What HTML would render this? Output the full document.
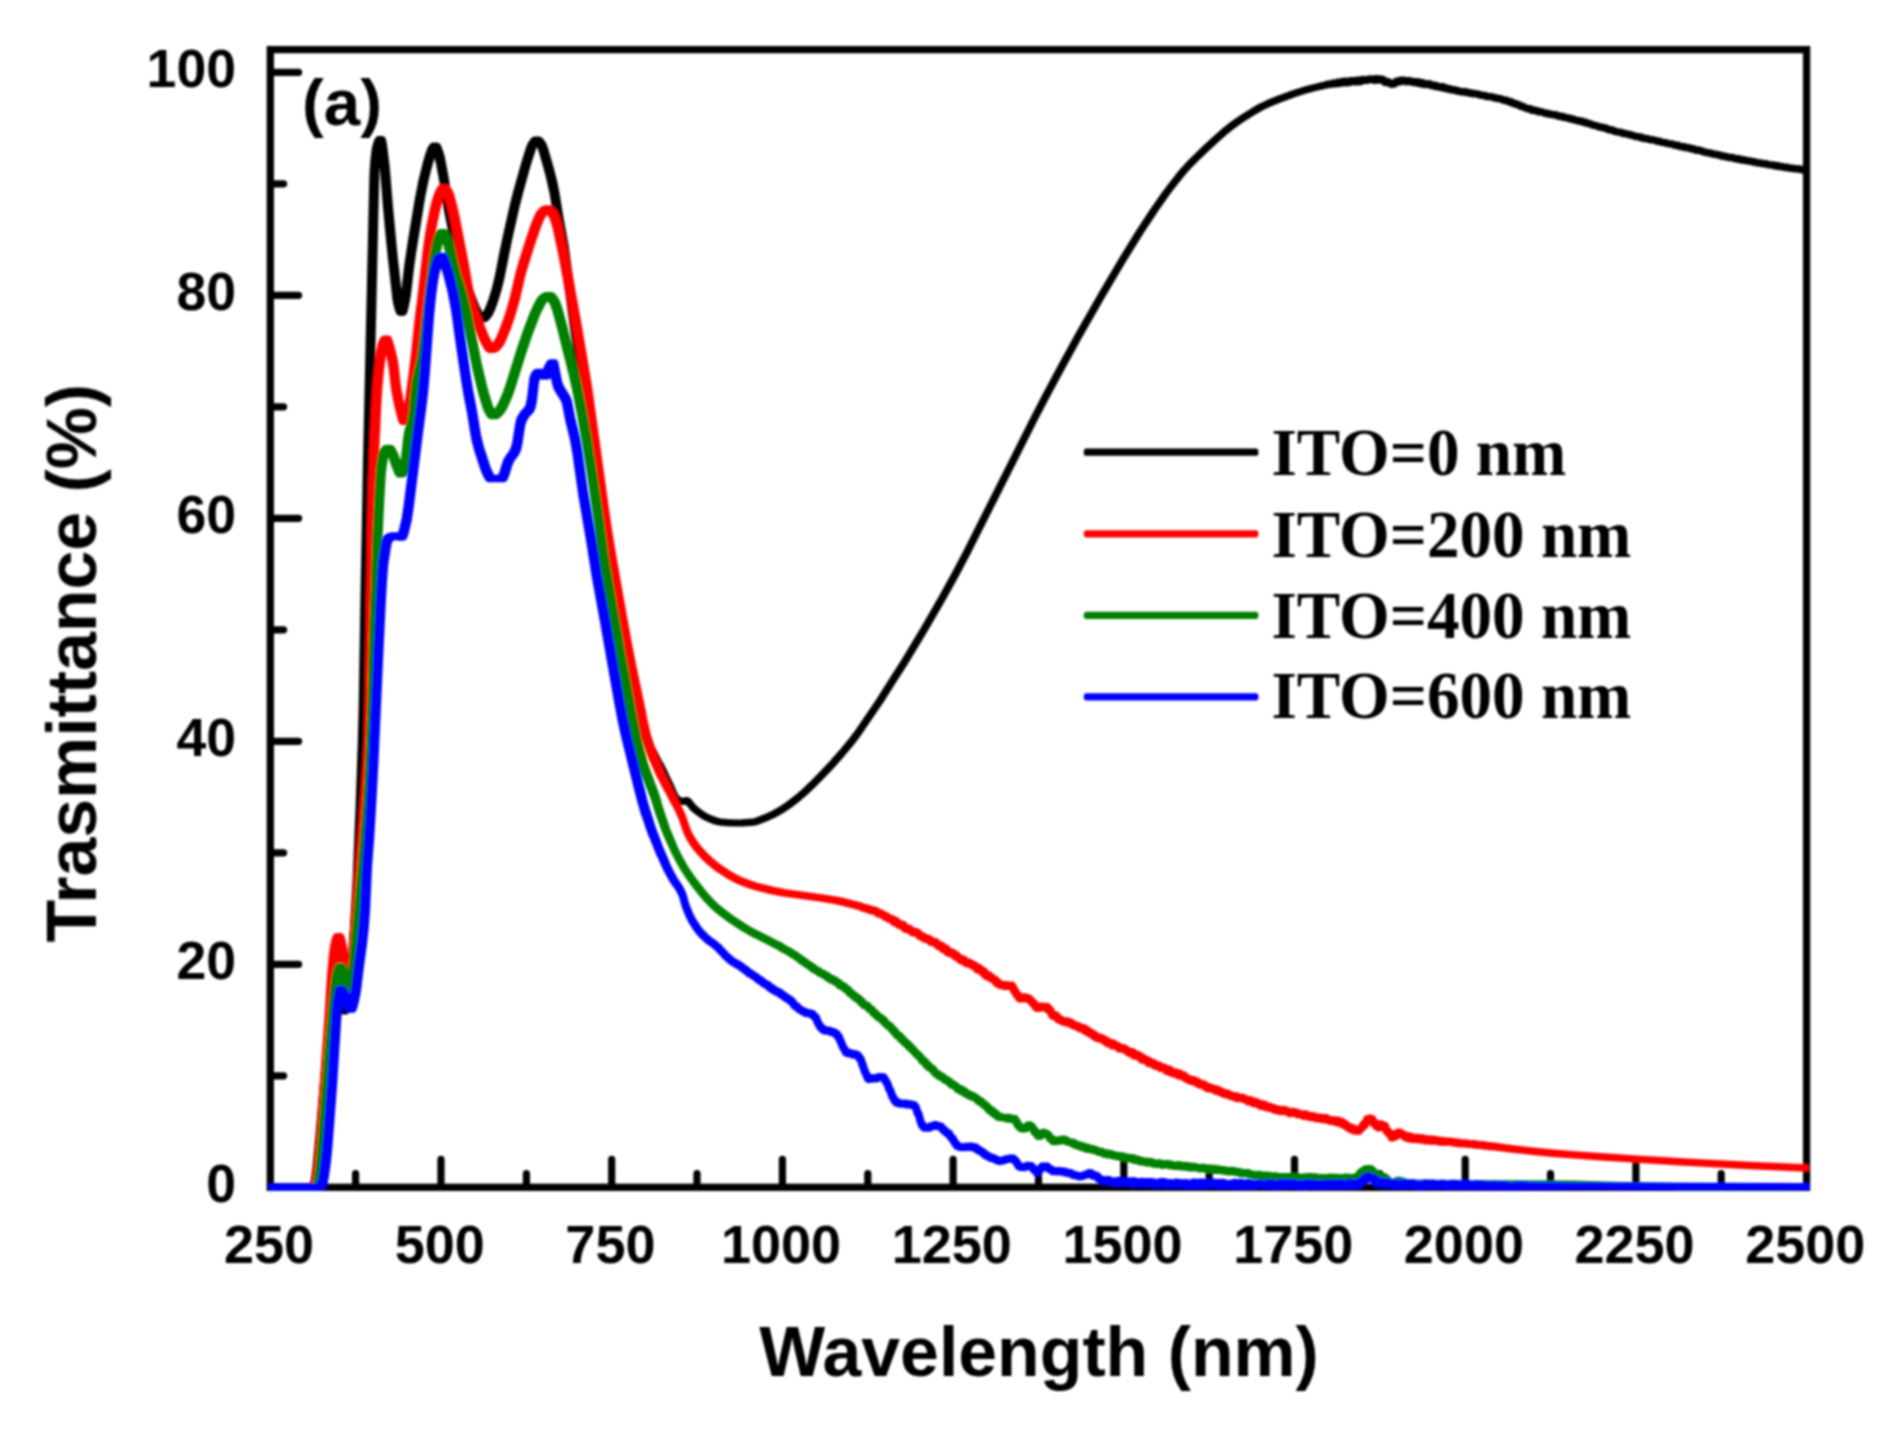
<!DOCTYPE html>
<html lang="en"><head><meta charset="utf-8"><title>Transmittance</title>
<style>html,body{margin:0;padding:0;background:#fff}svg{display:block}</style></head>
<body>
<svg width="1899" height="1432" viewBox="0 0 1899 1432">
<defs><filter id="soft" x="0" y="0" width="1899" height="1432" filterUnits="userSpaceOnUse"><feGaussianBlur stdDeviation="1"/></filter></defs>
<rect width="1899" height="1432" fill="#fff"/>
<g filter="url(#soft)">
<rect x="270.3" y="49.6" width="1536.3" height="1137.7" fill="none" stroke="#000" stroke-width="7.3"/>
<path d="M272.3 1075.8H283.6M272.3 964.3H298.6M272.3 852.8H283.6M272.3 741.3H298.6M272.3 629.8H283.6M272.3 518.3H298.6M272.3 406.8H283.6M272.3 295.3H298.6M272.3 183.8H283.6M272.3 72.3H298.6M355.6 1185.3V1173.6M441.0 1185.3V1159.4M526.4 1185.3V1173.6M611.7 1185.3V1159.4M697.0 1185.3V1173.6M782.4 1185.3V1159.4M867.8 1185.3V1173.6M953.1 1185.3V1159.4M1038.5 1185.3V1173.6M1123.8 1185.3V1159.4M1209.2 1185.3V1173.6M1294.5 1185.3V1159.4M1379.8 1185.3V1173.6M1465.2 1185.3V1159.4M1550.5 1185.3V1173.6M1635.9 1185.3V1159.4M1721.2 1185.3V1173.6" fill="none" stroke="#000" stroke-width="7.2" stroke-linecap="round"/>
<g stroke-width="5.0" stroke-linejoin="round">
<path fill="#000" stroke="#000" stroke-width="6.4" d="M272.2 1186.9L310.2 1186.9 311 1186.7 311.8 1186.1 312.2 1185.6 312.8 1184.5 313.5 1181.5 314.5 1176.1 315.5 1167.9 317.8 1144.2 324.2 1069.6 327.2 1041.8 329.8 1025.6 331 1019.4 332 1015.4 334.2 1008.5 335.5 1006.1 336.2 1005.6 342.8 1005.6 343.2 1006 344.2 1008.1 344.5 1008.3 345.2 1006.8 346 1004.9 346.8 1001.1 349 982.2 350.5 964.6 352.8 932.1 355.8 879.6 358.8 806.5 361 740.4 361.8 710.1 363.5 604.2 366.2 459 372.5 177.6 372.8 171.3 373.5 160.9 374.8 150.1 375.5 146.6 376.8 142.3 377.8 140 378.5 139.2 382.2 139.1 382.5 139.3 383.2 141.6 384.2 147.7 386.5 166.6 389.8 207.2 394.5 256.8 399 297.1 399.8 301.6 401.2 307.8 401.5 307.9 402 305.7 404 295.1 407.5 265 411 241.5 417.8 200.3 421.5 181.3 426 162.9 428.5 154.5 430 150.2 431.5 147.3 432.8 145.8 433.2 145.6 436.8 145.6 437.2 145.8 437.8 146.4 438.8 148.5 440.5 153.3 441.8 158.1 445.2 176.4 449.8 204.6 453.8 225.7 457.5 242.7 465.5 274.3 470.2 290.6 474.5 302.4 476.5 307.1 479.5 313.3 480.8 315.3 482.8 317.4 483.8 316.3 486 313.2 488 309.3 491.8 299.3 494.8 289.4 498 276.3 502.5 253.1 506 236.3 513.5 203 516.5 191.3 524.8 161.9 528.8 149.2 530.2 145.5 532 142.5 533.5 140.4 534.5 139.7 538.5 139.6 539.2 139.8 541 141.3 543.2 144.4 545 149.1 550 166.3 552.5 175.7 554.8 185.3 556.2 192.8 560.2 217.3 565.5 246.2 581.5 362.7 589 425.8 593 455.9 600 503.8 607.5 549.9 615.8 594.8 628 655.9 635.5 690.6 639 705.3 642.2 717.8 642.5 719.6 643 721.4 647 734.6 650 742.9 650.2 744.1 651.2 746.4 654 752.2 657.5 758.9 657.8 759.8 661.2 765.9 664 771.4 665.2 773.9 665.5 775 671.5 787.2 674.2 793.7 675.8 796.5 677.2 798.6 678.8 799.7 682.2 801 683 801 685.5 800.3 687 800.3 688 800.7 689.8 802.4 693.8 807.4 699.5 812.1 705 815.8 711.5 818.8 716.2 820.6 720.5 821.6 727.5 822.2 734.8 822.6 742.2 822.5 751.5 821.8 754.5 821.3 757.8 820.3 768 816.2 773.5 813.6 782 808.7 788.5 804.3 797.8 797.1 805 790.8 812.2 783.9 823.2 772.7 832.2 763.2 841 753.2 850.2 742.1 857.2 733 879.2 700.7 891.5 681.1 903 663.3 924.5 627.6 942.2 596.9 954.5 574.6 967.2 550.4 1034 417.6 1045.5 395.4 1058.8 370.6 1079.2 333.3 1100.5 296 1122 259.6 1139.2 231.7 1153.8 209.6 1164.8 193.9 1171 185.6 1178.2 176.4 1183.2 170.3 1187.8 165.3 1193.5 159.5 1205 148.4 1217 137.3 1223.2 131.8 1230.2 126.2 1237.2 121.1 1244.2 116.4 1253.5 110.6 1260.5 106.6 1267.5 103.3 1279.2 98.5 1294.2 93 1306.8 89.1 1323.8 84.8 1326 84.5 1327.2 83.8 1329.2 83.6 1331.2 83.7 1332.2 82.7 1334.2 82.6 1335.2 83.3 1336.8 82.7 1337.2 81.8 1339 81.8 1339.5 82.5 1339.8 82.1 1340.2 82.1 1340.5 81.5 1341.5 81.5 1341.8 82 1342 81.9 1342.8 81 1343.8 80.8 1344.8 80.8 1345.2 81.8 1345.8 81.8 1346.2 80.9 1348 80.7 1348.2 81.1 1349 81.2 1349.5 81.8 1350 80.6 1350.5 80.5 1350.8 80.1 1351.8 80.1 1352.2 80.5 1352.8 80.3 1354.8 80.4 1355.2 81.1 1355.5 80.9 1355.8 80.1 1356.2 79.8 1357.2 79.8 1357.5 80.2 1357.8 80.3 1358.2 80.8 1358.8 79.8 1360.2 79.9 1360.8 80.6 1361 80.6 1361.5 79.4 1361.8 79.4 1362 79 1362.2 79 1364 79.1 1364.5 79.3 1364.8 79.8 1365.8 79.2 1366.8 79.2 1367.5 79.4 1367.8 78.8 1369.8 78.8 1370.2 78.5 1371.5 78.6 1371.8 78.9 1372 78.9 1372.2 78.6 1374.2 78.5 1374.5 79.2 1374.8 79.2 1375.5 78.2 1376.5 78.2 1376.8 78.8 1377 78.5 1378 78.5 1378.5 79 1378.8 79 1379 78.5 1380 78.5 1380.5 78.9 1380.8 78.6 1381.8 78.6 1382 78.9 1382.8 79 1383 79.2 1383.8 79.2 1385.2 81.7 1385.8 81.9 1386.2 81.1 1387.8 81 1388.5 82.4 1388.8 82.1 1390.8 82.3 1391 82.6 1391.5 82.8 1392 83.7 1392.2 83.1 1392.5 82.9 1394.5 82.9 1394.8 82.4 1395.2 82.2 1395.8 81 1396 81 1396.5 80.6 1398.2 80.5 1398.5 81.2 1399.5 81.2 1400 80.7 1400.5 79.7 1402.2 79.7 1402.5 80.1 1403 80 1403.2 79.6 1404.2 79.6 1405 80.3 1405.2 80.3 1405.5 80.9 1406 81.1 1406.2 81.1 1406.8 80.3 1407.5 80.1 1409.8 80.1 1410.2 80.3 1410.8 81 1412.2 80.9 1413 81.1 1413.5 81.8 1413.8 81.8 1414 81.2 1415 81.2 1415.2 81.9 1415.5 82.1 1415.8 81.7 1416.5 81.6 1416.8 81.2 1417.8 81.2 1418.8 82.1 1419 81.6 1420 81.6 1420.5 82 1420.8 82.9 1421 83 1421.8 82.3 1422.8 82.3 1423 82.6 1423.2 82.6 1424 83.6 1424.5 83.3 1426.5 83.3 1426.8 83.7 1427.5 83.8 1427.8 83.4 1429 83.3 1430 83.5 1431 84.6 1431.2 84.4 1432.2 84.4 1432.5 84.9 1433.5 84.9 1433.8 84.7 1435.2 84.6 1435.8 85.8 1436 85.8 1436.2 85.4 1437.2 85.4 1437.8 86.2 1438 85.9 1439 85.9 1439.2 86.3 1440.5 86.1 1443.2 86.3 1443.5 86.4 1443.8 87.1 1444 87.3 1445.8 87.2 1446.5 87.5 1447.2 88.6 1448.5 88.4 1448.8 88.1 1450 88.2 1450.5 88.9 1451.5 89 1452 89.5 1452.5 89.1 1454 89.1 1454.5 89.5 1455.8 89.5 1456.8 90.3 1458.5 90.1 1459.2 90.7 1460 90.7 1460.8 91.1 1462.2 91.2 1462.5 91.5 1462.8 91.5 1463 91.3 1466 91.3 1466.2 91.6 1467 92 1468.2 91.9 1469 92.1 1469.2 92.5 1470.5 92.4 1471.2 92.9 1471.8 92.6 1472.8 92.6 1473.8 93.2 1476 93.2 1476.8 93.5 1478 93.5 1478.2 93.8 1479.5 93.9 1480 94.4 1480.5 94.5 1485.8 95.1 1486.5 95.8 1487.2 95.8 1488.2 96.3 1490.8 96.1 1491 96.3 1493.5 96.6 1494.2 97.1 1495 97.3 1495.2 97.5 1497.2 97.5 1497.8 97.8 1500.8 98.2 1501.2 98.3 1502 98.9 1502.8 98.9 1503.8 99.8 1506.2 99.6 1506.8 99.8 1507.5 100.6 1508.5 100.6 1509 100.9 1510 101 1511 101.9 1512.5 101.8 1513 102.1 1513.5 102.7 1514.2 102.8 1515 103.3 1516.5 103.3 1517.5 103.7 1517.8 104.1 1518.5 104.4 1519.5 104.5 1520.2 104.8 1521.2 105.9 1523.2 106 1524.2 106.3 1524.5 106.7 1525 106.9 1525.5 107.5 1526 107.5 1526.2 107.8 1527.5 107.8 1528.2 108 1528.5 108.2 1530 108.2 1530.8 108.5 1532 109.7 1532.5 109.7 1532.8 109.4 1533.8 109.4 1535.2 109.8 1536 110.2 1537.2 110.2 1538.8 111.2 1540.5 111 1541.8 111.3 1542.5 111.7 1543.5 111.9 1544 112.4 1545.2 112.4 1545.8 112.9 1547 112.8 1547.2 113.1 1547.8 113.2 1549.2 113.1 1549.5 113.4 1550.2 113.7 1551.5 113.7 1552.5 114.2 1553.2 114.4 1554.5 114.3 1556.5 114.5 1557.2 115.1 1558.8 115.1 1559.5 115.7 1560.8 115.7 1561.2 116.1 1563.2 116 1564.2 116.7 1565.8 116.8 1566.5 117.2 1568.5 117.7 1569.8 117.6 1571.8 118.5 1573.2 118.4 1574 119 1574.2 119 1574.5 119.4 1576.2 119.6 1576.8 119.9 1577.5 119.9 1578.2 120.3 1580 120.2 1580.5 120.7 1581.8 120.6 1582.2 120.7 1583.2 121.4 1584 121.6 1584.2 122 1585.8 121.8 1586 122.1 1586.8 122.2 1587.5 122.8 1589 122.9 1589.5 123.3 1591 123.5 1592.2 124.3 1594 124.6 1594.5 125 1595.8 125 1596.8 125.5 1598.2 125.7 1599 126.2 1600.8 126.7 1602.8 126.8 1603.8 127.3 1604.8 127.3 1605.5 127.7 1606.8 127.8 1607.2 128.1 1607.8 128.7 1608.5 129 1609.5 129.1 1610.2 129.3 1610.5 129.1 1611.5 129.1 1612.2 129.4 1613 130 1614.5 130.1 1615.2 130.9 1616.5 131.1 1617 131.4 1621 131.7 1621.2 132 1621.8 132.2 1622.5 132.2 1623.2 133 1625 132.9 1625.2 133.2 1626.5 133.3 1627.8 133.6 1628.5 134.1 1630.2 134 1631.2 134.7 1632.5 134.8 1633.2 135.2 1634.8 135.4 1636.8 136.1 1639 136.1 1640.2 137 1641 136.8 1642.5 136.9 1643.2 137.8 1644.8 138.1 1647 138 1647.8 138.5 1648.5 138.5 1648.8 138.7 1650.2 138.9 1651.2 139.2 1652.8 139.2 1653.5 139.5 1655.2 139.8 1656 140.2 1657 140.2 1657.8 140.7 1659.8 140.8 1660 141.1 1660.5 141.2 1661 141.5 1662.5 141.6 1663.5 142 1666.2 142.1 1667.2 142.8 1668.8 143.2 1672.2 143.5 1672.8 143.9 1674 144.1 1675.2 144.7 1677.5 144.6 1678.5 144.8 1679.8 145.9 1681 145.9 1681.8 146.2 1683.2 146.1 1683.8 146.4 1685 146.3 1686.2 147.1 1689.5 147.3 1690 147.7 1691.5 148.2 1691.8 148.4 1692.2 148.2 1693.8 148.3 1694.5 149 1695 149.2 1695.5 149.2 1696 149.6 1696.8 149.6 1697 149.4 1699 149.6 1699.2 149.8 1700 149.9 1700.2 150.2 1701.5 150.3 1702 150.6 1703.2 150.9 1704 151.4 1705.2 151.4 1706.5 152.1 1708 152.1 1708.5 152.4 1710.5 152.4 1711 152.9 1712.2 152.9 1713 153.5 1714.2 153.5 1715 153.9 1716.2 153.7 1717 154.2 1718.2 154.2 1718.5 154.4 1720 154.5 1720.8 155.1 1721.5 155.2 1722 155.6 1724.2 155.5 1724.8 155.9 1726 156 1727 156.4 1727.8 156.4 1728.2 156.7 1729.2 156.8 1730.2 157.1 1732.2 157 1733.2 157.2 1735 158 1736.2 158 1737 158.4 1738.8 158.3 1739.5 158.7 1740.2 158.7 1741 159.1 1742.2 159 1743.2 159.5 1744.8 159.5 1745 159.8 1745.8 160 1748.5 160.2 1749.5 160.6 1751.5 160.8 1752.5 161.2 1753.2 161.2 1753.8 161.5 1755.8 161.5 1757 162.3 1760.5 162.5 1761.5 162.7 1761.8 163 1763 163 1764.8 163.4 1765 163.2 1766 163.2 1767 163.4 1767.8 164 1769.2 164.2 1772.8 164.4 1773.2 164.8 1774.8 165 1775 165.3 1775.5 165 1776.5 165 1777.5 165.6 1779 165.4 1779.5 165.8 1780.5 166.1 1782.2 166 1782.8 166.4 1784.8 166.7 1785 166.9 1787.5 166.8 1787.8 167.1 1789 167.2 1789.8 167.7 1792.8 167.7 1793.5 168 1794.8 168 1796.5 168.5 1797.5 168.3 1799.5 168.4 1800.8 169.1 1803 169 1803.2 169.4 1804 169.4 1804.2 169.7 1805.5 169.8 1805.5 170.6 1804.2 170.7 1803.2 170.5 1802.5 170.3 1802 170 1800 170 1798.8 169.3 1795.8 169.4 1795 169.3 1794.2 169 1793 169 1792 168.6 1791.8 168.8 1789.2 168.6 1788.2 168.2 1787 168.3 1786.5 167.7 1786 168 1785 168 1784.8 167.8 1781.8 167.3 1781.2 166.9 1781 167.1 1780 167.1 1778.2 166.5 1778 166.7 1776.8 166.7 1776 166.2 1774.2 166.3 1773.8 165.8 1772.5 165.8 1771.8 165.2 1768.5 165.2 1768 165 1766.8 164.9 1766 164.2 1763.2 164.3 1762.8 164 1760.8 163.8 1759 163.3 1757 163.4 1756 163.1 1755 162.5 1753.5 162.5 1751.8 162.2 1751 161.8 1748.5 161.5 1748 161.3 1745 161.1 1743.8 160.4 1743.5 160.6 1742.5 160.6 1741.8 160.1 1741.5 160.3 1740.5 160.3 1739.8 159.8 1738.8 159.7 1738.2 159.3 1737.8 159.5 1736.5 159.5 1735.8 159.1 1734.5 159.1 1733.5 158.8 1732.2 158 1731.5 157.9 1729.5 158 1726 157.3 1725.5 156.9 1724 157 1723.5 156.5 1723.2 156.7 1722 156.6 1720 156.1 1719 155.3 1716.5 155.2 1715.5 154.7 1712.2 154.5 1711.2 153.7 1710 153.7 1709.5 153.4 1708.2 153.5 1707.8 153.2 1705 152.8 1704.2 152.3 1703 152.2 1702.2 151.7 1701.5 151.7 1700.8 151.2 1699.2 151.1 1698.8 150.6 1697.2 150.4 1697 150.7 1696 150.7 1694.2 150.2 1693 149.3 1691 149.4 1690.5 149 1689.8 148.9 1688.5 148.2 1686.2 148.2 1685.2 148.1 1684.2 147.3 1683 147.5 1682.5 147.1 1681.2 147.2 1680.2 147 1680 146.8 1678.8 146.7 1677.5 145.6 1674.5 145.7 1673.8 145.5 1673.2 145 1672.2 144.9 1671.2 144.3 1669 144.3 1668.5 144 1667.2 144 1667 143.7 1666.2 143.6 1665.8 143.4 1665.5 143.1 1664 143.1 1663.8 143 1662.5 142.9 1662 142.6 1660.8 142.6 1658.8 141.8 1657.2 141.9 1657 141.6 1655.5 141.2 1653.8 140.4 1652.2 140.2 1650.5 140.3 1650 139.8 1648.8 139.9 1648.2 139.5 1647 139.4 1646.5 139 1642.8 138.8 1642.2 138.6 1641.5 137.7 1641.2 138 1639.8 138 1638.2 137 1635.8 137.1 1635 136.7 1634.2 136.6 1634 136.3 1633.2 136.3 1631.5 135.6 1630.2 135.6 1629.2 135 1629 135.1 1628 135.1 1626.8 134.4 1626 134.3 1625.8 134.1 1622.8 134 1622.2 133.8 1621.8 133.3 1620.5 132.8 1616.2 132.3 1615.5 131.9 1614.5 131.8 1613.8 131.1 1612.2 131 1611.2 130.2 1610.8 130.4 1609.8 130.4 1609 130.1 1608.2 130.1 1606.8 129.5 1606.2 128.9 1605.8 128.7 1604.5 128.6 1603.8 128.3 1603 128.3 1602.2 127.8 1601 127.9 1600.8 127.7 1599.8 127.6 1599 127.2 1598 127 1597.2 126.5 1596.2 126.5 1595 125.9 1593.8 125.9 1592.8 125.4 1591.8 125.3 1590 124.4 1589.5 124.4 1588 123.8 1586.8 123.7 1585.8 123.1 1583.2 122.8 1583 122.4 1582.2 122.2 1581.5 121.6 1579.8 121.7 1579.2 121.3 1577.8 121.4 1577.5 121.1 1577 120.9 1575.8 120.8 1575.5 120.5 1574 120.4 1572.5 119.4 1572 119.7 1571 119.7 1570.5 119.2 1569.2 118.7 1567.8 118.8 1567 118.3 1565.5 118.1 1565.2 117.8 1563.5 117.8 1562.5 117.1 1562 117.3 1561 117.3 1560.8 117 1560 116.8 1559 116.8 1558 116.3 1557 116.3 1555.8 115.5 1554.5 115.3 1553 115.4 1551.5 115 1550.8 114.6 1549.5 114.7 1548.8 114.2 1547 114.3 1546.5 113.9 1545.2 113.9 1544.2 113.4 1543 113.2 1542.5 112.7 1540 112 1539.2 112.3 1538 112.3 1537.2 111.6 1537 111.6 1536.8 111.3 1535 111.2 1534.8 110.9 1533.8 110.5 1531.8 110.7 1530.8 110.3 1529.8 109.3 1527.8 109.4 1527.2 108.8 1525.5 108.6 1525 108.3 1524.5 108.3 1524 107.7 1523.5 107.5 1523.2 107.1 1520.8 107 1520.2 106.7 1519.5 105.7 1518.8 105.4 1517.8 105.4 1516 104.3 1515.5 104.5 1514.5 104.5 1513.8 103.8 1512.8 103.8 1512 102.9 1510.8 103 1510 102.8 1509.5 102.1 1509 101.8 1506.5 101.5 1505.8 100.7 1504 100.8 1502.8 100.6 1501.8 99.7 1501 99.7 1500.2 99.1 1499 99.1 1498.8 98.9 1498.5 99.1 1497.5 99.1 1496.5 98.4 1495.2 98.5 1495 98.3 1493.8 98.3 1492.5 97.4 1490.8 97.4 1490 97.1 1487.2 97.1 1486.8 96.8 1485.5 96.7 1484.8 96.1 1483 95.7 1481.2 95.8 1480.8 95.5 1479.8 95.5 1479 95.2 1478.8 94.9 1478 94.9 1477 94.5 1475.8 94.4 1475.5 94.2 1473.8 94.3 1472 93.8 1471.8 94 1470.8 94 1470 93.5 1468.5 93.4 1468 93 1467.8 93.2 1466.8 93.2 1465 92.3 1464 92.2 1463.5 92.6 1461.8 92.5 1461.2 92.1 1458.8 91.9 1458 91.3 1457.5 91.4 1456.2 91.4 1454.8 90.5 1453.5 90.6 1453.2 90.3 1452.8 90.5 1451.2 90.4 1450.8 90 1449.5 89.9 1449 89.3 1448.2 89.5 1446.2 89.4 1445.5 88.3 1445.2 88.2 1445 88.1 1444.5 88.6 1443 88.5 1442.5 87.2 1442 87.1 1440.8 87.2 1440.2 87.7 1439.2 87.7 1438.5 87.3 1437.5 87.3 1437 87 1435 87.1 1434.2 85.7 1434 86.1 1432.5 86.1 1432.2 85.7 1431.8 86.1 1430.8 86.1 1429.5 84.7 1428.8 84.3 1428.5 84.6 1428 84.6 1427.8 85 1426.8 85 1426.2 84.7 1425.2 84.7 1425 84.5 1424.5 85 1423.5 85 1423 84.7 1422.8 84.1 1422.2 83.7 1421.2 84.2 1420.2 84.2 1419.8 83.7 1419.5 83 1419.2 83 1419 83.7 1418 83.7 1417.8 83.6 1417.5 82.8 1417.2 82.7 1416.2 83.2 1414.5 83.1 1414.2 82.9 1412.8 82.9 1412.2 82.3 1411.8 82.5 1410 82.4 1409.5 81.4 1407.5 81.4 1407.2 82 1407 82.1 1405.5 82.2 1405.2 81.9 1404.5 81.7 1404.2 81.1 1403.8 80.9 1403 80.9 1402.8 81.2 1401.8 81.2 1401.5 81 1401.2 81.1 1400.5 82.3 1400.2 82.3 1397.8 82.4 1397.2 81.6 1397 82.2 1396.5 82.5 1396 83.3 1395.8 83.3 1395.2 84.2 1393.5 84.1 1393.2 84 1393 84.6 1392.5 84.6 1392.2 84.8 1391 84.8 1390.8 84.2 1390.2 83.9 1390 83.4 1388 83.4 1387.5 83.2 1387.2 82.6 1387 82.5 1386.5 83.1 1385.5 83.1 1384.2 82.5 1382.8 80.2 1381.5 80.1 1381.2 80.3 1380.2 80.3 1379.8 79.9 1379 80.6 1378 80.6 1377.8 80 1376.2 79.8 1376 79.6 1375.5 80.8 1374.2 80.8 1374 80.2 1373.8 80.5 1372.8 80.5 1372.5 79.8 1371 79.8 1370.8 80 1368.8 80 1368.2 80.3 1368 80.7 1366.8 80.7 1366.2 80.4 1365.2 80.9 1364.2 80.9 1363.8 80.6 1363.5 80.1 1363 80 1362.2 80.5 1362 81.4 1361.5 81.5 1361.2 82 1360 82 1359.5 81.1 1358.5 82.2 1357.5 82.2 1357.2 82.1 1356.8 81.1 1356 82.4 1354.5 82.4 1354 81.7 1353.5 81.6 1353.2 81.3 1353 81.5 1351.5 81.6 1351 81.8 1350.5 82.8 1349.8 83 1348.8 83 1348 82 1347.2 81.9 1347 82 1346.8 82.8 1346.2 82.8 1346 83.2 1344.8 83.3 1343.8 81.8 1342.8 83.3 1341.5 83.4 1340.8 82.9 1340.2 83.9 1339.2 83.9 1338.5 83.4 1338.2 83 1337.5 83.6 1337.2 84.1 1336.5 84.1 1336.2 84.3 1334.5 84.3 1334 83.9 1333.2 83.5 1332.2 84.5 1331 84.7 1330 84.7 1329.8 84.6 1329.5 84.7 1328 84.8 1327 85.3 1324.8 85.6 1324 85.9 1314 88.2 1303.8 91 1295.2 93.8 1280.2 99.3 1268.5 104.1 1261.5 107.4 1254.5 111.4 1245.2 117.2 1238.2 121.9 1231.2 127 1224.2 132.6 1218 138.1 1206 149.2 1194.5 160.3 1188.8 166.1 1184.2 171.1 1179.2 177.2 1172 186.4 1165.8 194.7 1154.8 210.4 1140.2 232.5 1123 260.4 1101.5 296.8 1080.2 334.1 1059.8 371.4 1046.5 396.2 1035 418.4 968.2 551.2 955.5 575.4 943.2 597.7 925.5 628.4 904 664.1 892.5 681.9 880.2 701.5 858.2 733.8 851 743.2 841.8 754.3 832.8 764.5 823.5 774.3 812.5 785.5 805.2 792.3 798.5 798.1 788.8 805.6 782.8 809.7 774 814.6 768.5 817.2 758.2 821.3 754.5 822.3 750.8 822.7 742 823.3 734 823.4 726.8 823.1 719.5 822.4 715.2 821.4 710.5 819.6 704 816.6 698.5 812.9 692.8 808.2 688.8 803.2 687 801.5 686.2 801.2 683.8 801.9 681.2 801.8 677.8 800.5 676.2 799.4 674.8 797.3 673.2 794.5 673 794.5 669 785.9 665.5 778.9 665.2 778.9 659.8 767.7 657.8 764 657.5 764 655.2 760.2 650.2 750.4 650 750.4 647.8 745.5 645.8 740.4 642.5 730.7 642.2 730.7 640.2 724 637 712 633.5 697.8 625.8 662.7 612.8 598.2 608.2 574.5 604.2 552.1 596.8 506.2 589.5 456.7 585.5 426.6 577.8 361.6 561.8 245.4 556.8 218.1 552.8 193.6 551.2 186.1 549 176.5 546.5 167.1 541.5 149.9 539.8 145.2 537 141.6 536.8 141.5 536 142.5 534 145.8 532.8 148.7 528.2 162.7 520 192.1 516.5 205.9 509.2 238.2 501.2 278.2 498.2 290.2 495.2 300.1 492.8 307 491 311.3 489.8 313.6 487.8 316.5 486.5 318 485.2 318.9 484.5 319.1 481 319.1 480.2 318.9 479.2 318.2 476.8 315.4 475.2 312.7 472.2 306.2 469.8 300 467.2 292.9 462.2 276 454.8 246.5 451.8 233.6 446.5 206.8 442 178.6 439 162.5 437.2 154.9 435.2 149.3 435 148.7 434.8 148.6 433.8 150.4 432.8 153 429 165.5 425.2 181 422 196.9 412.8 253.5 410.8 267.8 407.8 294.1 407 299.1 405.5 306.5 404.5 310.5 404 311.9 403.5 312.6 399.8 312.7 399 312 397.8 308.6 396.2 302.4 395.5 297.9 394.8 291.7 391 257.6 388.5 232.6 386 205.1 382.8 164.8 381 150.4 380 143.9 378.2 150.9 377.2 158.9 376.2 172.1 375.8 186.8 370 447.6 367 605 365.2 710.9 364 756.9 361.2 833.3 359 885.4 356 936.7 354 965.4 352.5 983 350.2 1001.9 349.5 1005.7 348.8 1007.6 347.5 1010 346.2 1011.3 342.2 1011.4 341.5 1010.6 339.8 1006.8 339.5 1006.5 339 1006.9 337.8 1009.3 335.5 1016.2 334.5 1020.2 333.2 1026.4 330.8 1042.6 327.8 1070.4 321.2 1145 318.8 1171 317.8 1178.4 316.8 1183.5 316 1186 314.8 1187.3 313.8 1187.7 272.2 1187.7Z"/>
<path fill="#f00" stroke="#f00" d="M271.5 1186.1L310.5 1186.1 311.2 1185.9 312 1185.3 312.5 1184.8 313 1183.7 314.2 1178.2 315.2 1171.7 318 1143 327 1015.8 329.5 975 331 958.4 332.5 946.3 334.2 939.1 335 937 335.8 935.7 336 935.6 341.2 935.6 342 936.7 343.2 940.9 344.8 948.3 345.5 955.3 347.2 976.9 348.2 985.5 350.2 965.1 353.8 910.4 361 820.6 364.8 765.4 365.8 747.8 366.5 728.8 367 705.5 369.8 513 370.5 482.2 371.8 446.7 373.8 403.2 375 383.8 377 363.3 378.2 354 379.5 347.2 380.5 343.2 381.8 340.2 382.8 338.5 383.5 338 388.8 338 389.5 339 390.5 341.7 393 350.2 395 358.8 396 364.6 398.2 384.1 399.2 390.6 401.2 401 404.5 414.4 406.5 405.8 407.5 400.3 411.2 372.9 413.5 353.9 416.8 321.9 420.2 294.3 425.2 250.5 427.5 234.3 429.5 222.9 431.5 213 433.2 205.5 435.2 198.2 436.5 194.3 437.8 191.2 440 187.7 440.8 187 441.5 186.8 446.5 186.8 447.5 187.3 448.5 188.5 450 190.9 451 192.8 451.8 194.9 455.2 208.2 457.5 218.6 466 262.3 471 291 472.8 299 474.5 305.1 476.5 311.1 485 333.2 487.2 338.2 490.5 344.2 492 346.5 492.2 346.6 493 345.8 495.8 342.7 497.8 339.4 500.8 332.6 505.8 319.4 509 309.3 512.2 297.9 517.8 273.7 520.8 263 527 243.3 532.5 226.9 534.5 221.6 537.2 215.4 539 212.4 541.2 209.9 543.2 208.3 544.8 207.8 550 207.8 551.5 208.4 553 209.6 555 211.8 555.8 212.9 556.8 215.1 558.2 219.2 560 225 564 243.6 570.5 277 579 323.8 586.2 366.2 589.8 388.1 606.8 511 610.2 534.1 614.5 560 624.8 618.2 629.8 645.5 634 666.8 643.8 713.4 644 715.8 647.8 732.6 649.2 738.1 651.5 745.2 651.8 746.7 655 755.3 659 764.7 659.2 765.9 662.8 773.6 666.8 781.6 667 782.5 674.5 797.1 674.8 798.1 681.5 811.5 683.8 817 688.2 829.9 690.2 834.3 693 839 696 843.4 699.2 847.6 703.5 852.4 707.5 856.6 711.5 860.2 715.8 863.8 720.8 867.5 730 873.6 734.2 876 738.5 878.2 744.2 880.7 750 882.9 755.8 884.8 762 886.5 773.2 889.3 784.2 891.4 823.5 896.9 837.8 899.3 847 901.3 848.2 901.7 850.8 902.3 853.2 903.2 855 903.2 856 903.8 857.2 903.9 859 904.6 860.2 904.7 861.2 905 862.8 905.7 863.2 905.7 863.8 906.3 866.2 906.4 866.8 906.8 867.2 906.8 867.8 907.4 869.8 907.5 870 908 870.8 908.1 871 908.4 873 908.4 873.5 909.1 875.2 909.1 875.8 909.5 876.5 909.6 877.8 910.2 878.8 911.6 881.5 911.8 882 912 882.5 912.9 883 912.9 883.2 913.4 884.8 913.8 885 914.3 885.5 914.6 886.2 914.7 886.5 915 888 915 888.5 916 889 916.2 889.2 916.7 889.8 916.7 890.2 917.3 892.8 917.5 893.2 917.7 893.5 918.2 894 918.3 894.2 919.2 896.8 919.5 897.5 920.4 897.8 921.3 898.2 922 899.2 922 899.8 922.3 900 922.9 902.8 922.9 903 923.7 904.5 923.8 905 925.7 905.8 926.4 907.5 926.4 908 926.6 908.8 927.5 910.5 927.6 910.8 928.1 911.2 928.2 911.8 929.4 912 929.7 913.2 929.7 913.5 930.2 916 930.2 917.5 931 917.8 931.4 918 931.4 918.2 931.7 919 931.8 919.2 931.9 919.5 932.5 919.8 932.6 920 933.6 920.8 933.7 921 934.1 922 934.2 922.5 934.9 923.5 934.9 924 935.2 924.5 936.5 926.5 936.6 927 937.1 929 937.2 929.2 938.3 931.2 938.5 931.5 938.8 931.8 938.8 932.5 940.4 934.8 940.4 935 940.5 936.8 940.7 937 941.6 937.2 941.9 937.5 941.9 937.8 942.5 938 942.8 938.2 942.8 938.5 943.2 940 943.2 940.5 944.3 940.8 944.4 942.8 944.4 943 944.6 943.5 946.1 943.8 946.1 944 946.8 945.8 946.8 946.2 947 946.5 947.6 947.5 947.6 948.2 949.1 948.5 950.2 949.8 950.2 950.2 950.3 950.5 950.9 950.8 951.1 952.8 951.1 953.2 951.7 953.5 951.7 953.8 952.2 955 952.2 955.2 952.4 956 954.1 957.8 954.1 958.2 955.3 958.8 955.9 959.5 956 960 956.5 960.5 956.5 961 958 961.8 958.2 962 957.9 964.5 957.9 965 958.7 965.2 959.8 965.5 960 966.5 960 967.8 960.9 969.8 960.9 970.2 961.9 971.5 961.9 971.8 962.3 972.2 962.4 972.8 963.4 974.5 963.6 974.8 964.2 976 964.2 976.5 965.2 977 965.6 977.5 966.5 980 966.6 980.5 966.9 981 967.9 981.2 967.9 982 969 983.2 969 983.5 969.5 983.8 969.5 984 970.5 985.5 970.5 986 971.4 986.5 973.7 987 974.2 987.2 973.8 989.8 973.8 990.2 974.2 991 975.7 992 976.1 992.5 976.1 992.8 976.8 993.5 976.8 994 977.1 994.5 977.5 994.8 978.1 995.8 978.3 996.8 979 997.2 980.4 997.5 980.4 997.8 980.7 998.5 980.7 998.8 981 999.2 981 999.5 982 1000.2 982.9 1001 983.2 1002.8 983.2 1004.8 983.6 1007.5 983.6 1007.8 983.9 1009 983.9 1009.5 984.2 1012.5 984 1012.8 984.4 1013.2 984.5 1013.5 985.7 1014 985.8 1014.2 986.1 1014.5 987.2 1014.8 987.5 1015 988.8 1015.5 989.3 1016.2 989.3 1016.5 990.2 1017.2 991.7 1017.5 992.9 1018.8 993.1 1019.2 995.1 1019.8 995.5 1020 996 1020.5 996.4 1021.5 996.9 1022 996.5 1022.2 995.7 1024.8 995.7 1025 996 1027 996 1028 996.7 1029.2 996.7 1029.5 997 1030 997.1 1030.2 998 1032 998.9 1032.5 1000 1032.8 1000 1033 1000.5 1033.2 1000.5 1033.5 1001.2 1034 1001.8 1035 1001.9 1035.2 1002.1 1036.5 1004.2 1036.8 1005.4 1037.8 1006.1 1038 1005.8 1039.8 1005.8 1040 1005.2 1040.5 1005 1043 1005 1043.5 1005.2 1043.8 1005.7 1044.8 1005.7 1045 1005.3 1047.5 1005.3 1047.8 1005.5 1048.2 1005.5 1048.8 1007.4 1050.2 1007.4 1050.5 1008.2 1050.8 1008.2 1051.5 1009.8 1052 1009.8 1052.5 1011.9 1052.8 1012 1053 1012.9 1053.2 1013.2 1053.5 1013.2 1054 1013.8 1056.2 1013.8 1057.2 1014.3 1057.8 1014.7 1059 1017.4 1060.8 1017.4 1061 1018.3 1061.5 1018.6 1062.2 1018.6 1062.5 1019 1063 1019 1063.5 1019.9 1064.5 1020 1064.8 1020.2 1065.5 1019.7 1068 1019.7 1068.2 1020.5 1069.2 1020.5 1070.2 1020.9 1071.8 1020.9 1072 1021.8 1072.5 1022.4 1073.2 1022.6 1073.8 1023.3 1075 1023.3 1075.5 1023.5 1076 1024.3 1078.2 1024.4 1078.5 1024.9 1080 1024.9 1080.5 1026.1 1082 1026.3 1082.2 1026.6 1084.2 1026.6 1084.5 1027.2 1085.2 1027.2 1085.5 1028.1 1087.2 1028.1 1087.5 1028.4 1088 1030 1089.8 1030.1 1090 1030.3 1090.2 1031.1 1090.8 1031.6 1092.5 1031.6 1093.2 1032.7 1094 1032.7 1094.5 1033.8 1096.5 1034 1097.5 1036 1100.5 1035.9 1100.8 1036.7 1102.8 1036.7 1103 1037 1103.5 1037.2 1104 1037.9 1104.2 1037.9 1104.8 1038.3 1105.2 1038.3 1105.8 1039.3 1107.8 1039.4 1108.5 1041.1 1108.8 1041.1 1109 1041.5 1112.5 1041.4 1112.8 1042 1113 1042 1113.2 1042.5 1115.2 1042.6 1115.5 1043.2 1116 1043.4 1116.2 1044.1 1116.8 1044.1 1117 1044.5 1119.2 1044.7 1119.5 1045.6 1119.8 1045.6 1120 1046.2 1121.8 1046.2 1122 1046.7 1124.8 1046.8 1125.8 1047.5 1126 1047.5 1126.2 1048.2 1126.5 1048.4 1126.8 1048.4 1127 1048.7 1127.8 1048.7 1128 1049.3 1128.2 1049.3 1129 1050.1 1130 1050.1 1130.2 1050.6 1133 1050.6 1133.8 1051 1134 1051.6 1134.5 1051.8 1135 1053.6 1135.2 1053 1138 1053.1 1138.5 1053.4 1139 1054.1 1140 1054.4 1140.5 1055.1 1141.8 1055.1 1142.2 1056.7 1142.5 1056.9 1144.8 1057.1 1145.2 1058.6 1147.5 1058.6 1147.8 1059.3 1149.5 1059.3 1150 1060.8 1150.2 1061 1152.5 1061 1153 1061.3 1153.2 1061.8 1155 1061.9 1155.5 1062.5 1156 1063.9 1159.8 1064 1160 1064.6 1161.2 1065 1161.5 1065.8 1162.8 1065.8 1163 1066.1 1164.5 1066.1 1165 1066.5 1165.5 1066.5 1166 1067.3 1166.5 1067.3 1167.2 1068.7 1167.5 1068.1 1170.2 1068 1171.2 1069.9 1173.2 1069.9 1173.8 1071.5 1174 1071.6 1174.2 1071.1 1177.2 1071.1 1177.5 1071.9 1177.8 1072.2 1180.5 1072.1 1181.2 1072.6 1182 1073.7 1184.8 1074 1185.5 1074.9 1186 1076 1186.5 1076.1 1186.8 1076.8 1189.2 1076.9 1189.8 1078.3 1194.2 1078.4 1195.2 1079.7 1197 1079.7 1197.5 1080.4 1197.8 1080.4 1198 1081 1199.5 1081.1 1199.8 1081.5 1200 1081.5 1200.5 1082.6 1204.2 1082.7 1204.8 1083.7 1206 1083.7 1206.2 1084.4 1206.5 1084.7 1206.8 1084.7 1207.5 1086.1 1208.2 1085.7 1210.8 1085.7 1211.2 1086.8 1212.8 1086.8 1213 1087.1 1216.8 1087.7 1217.5 1088.7 1219.2 1088.7 1219.5 1089.3 1220.8 1089.3 1221.2 1090.4 1222 1090.8 1224 1090.8 1224.5 1091 1224.8 1091.8 1225.2 1092 1228.5 1092.1 1229 1092.8 1230.2 1093.1 1230.5 1093.7 1232.2 1093.9 1232.8 1094.6 1233.2 1094.8 1237 1094.8 1237.5 1095.8 1240 1095.8 1240.2 1096 1243.5 1096.2 1244.5 1096.8 1245 1097.8 1247.8 1097.9 1248 1099 1248.5 1099.2 1248.8 1099.4 1249 1098.8 1251.5 1098.8 1252 1099 1253 1100.1 1253.8 1100.1 1254 1100.4 1256.2 1100.4 1256.5 1100.6 1257 1100.6 1257.2 1100.8 1257.5 1101.5 1258.2 1101.8 1260.5 1101.9 1261.2 1104 1261.5 1104 1261.8 1104 1262.2 1103 1264.8 1103 1265.2 1103.9 1266 1104.1 1266.8 1104.8 1268.5 1104.8 1268.8 1105.4 1269 1105.5 1271.2 1105.5 1271.8 1106.5 1274.5 1106.6 1275 1107 1275.2 1107.5 1277 1107.5 1277.5 1108.6 1279 1108.6 1279.5 1108.3 1282 1108.3 1282.2 1108.8 1283 1108.5 1285.5 1108.5 1286 1109.3 1287.2 1109.3 1287.5 1109.9 1289.2 1110 1289.5 1110.7 1290 1110.7 1290.2 1111 1291 1110.9 1291.2 1110.3 1293.8 1110.3 1294.2 1111 1297.2 1110.9 1298 1112 1299.8 1112 1300.2 1112.6 1301.8 1112.6 1302.8 1112.9 1306.8 1112.8 1307.5 1114.4 1310 1114.4 1310.5 1115.1 1310.8 1114.6 1313.5 1114.6 1313.8 1115 1314.2 1115 1314.5 1115.4 1316.5 1115.4 1316.8 1116.4 1317.5 1116.4 1317.8 1116.1 1318.5 1116 1321 1116 1321.2 1116.1 1321.5 1116.6 1323 1117 1323.2 1117.3 1323.8 1117.3 1324.2 1116.5 1326.8 1116.5 1327 1116.7 1327.5 1116.7 1327.8 1117.8 1328 1118.1 1329.8 1118.2 1330 1118.6 1330.8 1118.6 1331 1118.8 1335 1118.8 1335.2 1119.3 1335.5 1119.4 1335.8 1119.4 1336 1119 1338.5 1119 1338.8 1119.7 1339.2 1119.9 1341.8 1119.9 1342 1120.8 1342.2 1120.8 1342.5 1121.6 1344.5 1121.6 1345.5 1123 1346.8 1123 1347 1123.8 1347.2 1123.8 1347.8 1124.6 1348.2 1124.7 1348.8 1125.5 1350.2 1125.5 1350.5 1126 1351.2 1126 1351.5 1126.5 1353.2 1126.6 1354 1127 1354.2 1127.5 1354.8 1127.5 1355 1128.3 1355.2 1128.6 1356.5 1128.6 1357 1128.8 1357.5 1128.8 1358 1128.4 1358.2 1128.4 1358.5 1127.8 1359 1127.4 1359.5 1127.4 1360 1126.9 1360.2 1126.4 1360.8 1126.4 1361.5 1125.2 1362 1123.6 1363.2 1123.6 1363.8 1122 1364.2 1121.9 1364.5 1121.5 1364.8 1121.5 1365.8 1118.4 1366.2 1117.8 1368.2 1117.8 1368.5 1117.8 1368.8 1117.1 1369 1117.1 1371.5 1117.1 1372.2 1118 1373.5 1118 1374 1119.1 1374.5 1121.1 1374.8 1121.3 1375.8 1121.3 1376.8 1122.6 1377.5 1124.4 1378.2 1124.4 1378.5 1125.1 1378.8 1124.1 1379.8 1122.8 1382.2 1122.8 1383.2 1124.5 1386 1124.5 1386.5 1125.1 1387.2 1128.5 1387.8 1129.5 1389 1129.8 1389.2 1130.9 1389.5 1131.2 1390 1131.2 1390.2 1131.8 1390.8 1131.8 1391.2 1132.9 1391.8 1132.9 1392.8 1135 1393 1134.7 1394.5 1134.7 1395 1133.5 1395.2 1133.3 1395.8 1131.7 1397.2 1131.6 1397.8 1131.4 1398 1131 1400.5 1131 1401.2 1131.9 1402.8 1132.2 1403 1133 1403.5 1133 1403.8 1133.6 1405.5 1133.7 1406.2 1135.3 1406.8 1135.4 1407 1135.8 1407.5 1134.7 1410 1134.7 1410.2 1135.4 1412.5 1135.4 1413 1136.4 1413.2 1136.4 1413.5 1137.2 1414.2 1137.5 1414.5 1137.6 1415 1136.7 1415.8 1136.5 1416.2 1136.5 1416.5 1136.3 1419 1136.3 1419.2 1136.5 1419.8 1136.5 1420 1136.8 1423.5 1136.7 1424 1137.7 1424.5 1137.7 1425 1138.2 1425.5 1138.2 1425.8 1137.8 1428.2 1137.8 1428.5 1138.1 1430.2 1138.1 1430.5 1138.6 1430.8 1138 1433.2 1138 1433.8 1138.2 1436 1138.3 1436.2 1138.8 1437.2 1139 1439.5 1139 1439.8 1139.6 1443.5 1139.6 1444 1139.8 1445.8 1139.8 1446 1140 1450.8 1139.9 1452 1140.5 1454 1140.5 1454.8 1140.8 1456.2 1140.8 1456.5 1141.1 1458.5 1141.1 1459 1141.8 1459.2 1141.6 1462 1141.6 1462.5 1142 1464.5 1142.1 1464.8 1141.7 1467.2 1141.7 1467.5 1142.1 1468.2 1142.2 1468.8 1142.7 1474.2 1142.5 1474.5 1142.5 1475 1143 1477.8 1143 1478.2 1143.3 1479 1143.4 1479.2 1143.6 1479.8 1143.4 1482.2 1143.4 1484 1143.6 1485.5 1144.3 1487 1144.3 1487.8 1144.5 1490.8 1144.5 1491.8 1145 1495.8 1145.1 1496.5 1145.5 1498.2 1145.6 1499 1145.9 1500.8 1145.9 1504.2 1146.4 1505 1146.7 1506.8 1147 1509.5 1147.1 1512.5 1147.7 1514 1147.7 1530.8 1149.7 1551 1151.7 1578.2 1153.9 1637 1157.9 1692.2 1161.3 1749.8 1164.3 1806.2 1166.8 1806.2 1169.2 1790 1168.6 1749.2 1166.8 1680 1163.1 1604 1158.3 1552.5 1154.4 1532.8 1152.6 1510 1150.1 1507.5 1149.6 1504.2 1149.4 1502.5 1149.1 1501.8 1148.8 1497 1148.4 1496.2 1148.1 1494.5 1148.1 1493.8 1147.8 1490.5 1147.9 1489.5 1147.8 1489 1147.5 1487 1147.5 1486.2 1147.2 1483.5 1147.2 1482.8 1146.5 1481.8 1146.3 1481.2 1146.6 1477.8 1146.6 1476.8 1146.1 1474 1146.2 1472.8 1145.6 1467 1145.4 1466.2 1145.1 1461 1145 1460.2 1144.6 1460 1144.8 1457.5 1144.8 1456.5 1144.3 1453.2 1144.2 1452.5 1143.8 1452.2 1143.5 1450.8 1143.5 1450 1143.1 1447.2 1143.1 1447 1143.4 1442.2 1143.3 1441.8 1143 1441.2 1143.2 1438.8 1143.2 1438 1142.4 1435.8 1142.3 1435 1141.6 1434.8 1142.3 1434.5 1142.4 1429.8 1142.3 1429 1141.3 1428 1141.1 1427.5 1141.4 1427.2 1142 1424.2 1142 1424 1141.7 1423.5 1141.5 1423.2 1141.1 1422.8 1141 1422 1140.1 1421.5 1140.7 1421 1141 1418.5 1141 1418.2 1140 1418 1139.7 1417.2 1139.8 1417 1140.3 1415.8 1140.4 1415.2 1140.6 1412.8 1140.6 1411.2 1140.2 1411 1139.9 1408.5 1139.9 1408.2 1139.2 1405.8 1139.2 1405 1138.9 1404.8 1138.8 1404.5 1138.2 1403.8 1137.7 1403 1136.6 1401.5 1136.6 1401.2 1136 1400.8 1136 1400.2 1134.9 1399.8 1134.7 1399.5 1134.7 1399.2 1135.1 1398 1135.1 1397 1137.2 1396.2 1137.9 1394 1137.9 1393.8 1138.3 1393 1138.9 1390.5 1138.9 1389.2 1135.4 1388.8 1135.3 1388.2 1134.3 1387 1134.3 1386.5 1132.6 1386.2 1132.6 1386 1132.2 1385.5 1132.2 1385 1131.5 1384 1127.9 1382.8 1127.9 1382 1127.4 1381.2 1127.4 1381 1127.6 1380.8 1128.4 1380.2 1128.9 1377.5 1128.9 1376 1127.5 1375.2 1127.5 1374 1124.8 1372.8 1124.8 1372.5 1124.1 1372.2 1124.1 1371.5 1121.5 1371.2 1121.1 1370.8 1121.1 1370.5 1121.6 1370 1121.9 1368 1121.9 1367.5 1122.9 1367.2 1124.1 1366.2 1124.4 1365.8 1126.4 1365.2 1126.6 1365 1127 1364.2 1127 1363.2 1128.9 1362.2 1129.5 1362 1129.9 1361.5 1129.9 1361 1130.2 1360.8 1130.8 1360.2 1131 1360 1132 1359.8 1132.3 1355 1132.3 1354.8 1131.9 1352.8 1131.8 1352.5 1130.7 1352.2 1130.6 1350 1130.6 1348.8 1129.1 1347 1129.1 1346.8 1128.4 1346.2 1128.2 1346 1127.6 1345.5 1127.5 1345.2 1127 1344.8 1126.5 1343.5 1126.5 1343.2 1125.8 1342.8 1125.3 1340.8 1125.3 1340.5 1125.1 1340.2 1124.5 1339.8 1124.1 1337.2 1124.1 1337 1123.4 1334.8 1123.4 1334.5 1122.9 1333.8 1122.8 1333.5 1122.1 1332.8 1122.5 1330.2 1122.5 1329.5 1121.9 1328.5 1121.9 1328.2 1121.7 1327.8 1121.7 1327.5 1121.1 1326.8 1120.9 1323.5 1120.9 1322.8 1120.8 1322.5 1120.6 1321.2 1120.6 1320.5 1120 1319.2 1120 1319 1119.2 1318.2 1119.9 1315.2 1119.8 1314.8 1119 1313.5 1118.8 1313.2 1118.4 1312.8 1118.4 1312.5 1118.8 1310 1118.8 1309.8 1118.7 1309.5 1118.2 1308.5 1118.1 1307.8 1117.7 1305.8 1117.7 1305.5 1117.4 1303 1117.4 1302 1116.2 1300.5 1116.2 1300.2 1115.9 1298 1115.9 1297.8 1115.4 1296 1115.4 1295.5 1114.9 1295.2 1114.3 1292.5 1114.2 1292.2 1113.9 1291.8 1113.9 1291.5 1114 1291.2 1114.7 1288.8 1114.7 1288.5 1114 1288 1114 1287.5 1113.4 1285.5 1113.1 1285.2 1112.5 1284.2 1112.5 1283.8 1112.1 1283.5 1112.6 1280.5 1112.7 1280.2 1112.4 1278 1112.3 1277.5 1111.8 1275.2 1111.6 1274.8 1111.1 1273.2 1111.1 1272.8 1109.9 1272.5 1109.7 1269.5 1109.6 1269 1109 1267.2 1109 1267 1108.7 1264.8 1108.7 1264 1107.1 1263.8 1107.1 1263.5 1107.6 1261 1107.6 1260.2 1107.1 1259.2 1107.1 1258.2 1105.1 1256 1105.1 1255.8 1104.5 1255.5 1104.3 1255.2 1104.3 1255 1104.7 1252.5 1104.7 1252.2 1103.8 1252 1103.5 1251.5 1103.5 1251.2 1102.8 1248 1102.9 1247.2 1102.7 1247 1102.1 1246.5 1102.1 1246 1101.6 1245.5 1101.4 1245.2 1100.8 1243.2 1100.7 1243 1100.4 1242.5 1100.2 1242 1099.2 1241.5 1099 1241.2 1099.3 1239.2 1099.4 1239 1099.7 1236 1099.6 1235.8 1099.5 1235 1098.5 1233.5 1098.4 1233.2 1098.1 1231.8 1098.1 1231.2 1097.8 1230.8 1097.2 1229.2 1097.1 1228.8 1096.6 1228.2 1096.6 1228 1096.2 1227.2 1096.2 1227 1095.7 1223.8 1095.5 1222.8 1095.2 1222.5 1094.2 1222 1094 1220.8 1094 1219.5 1093.7 1219.2 1092.9 1218.5 1092.5 1215.5 1092.6 1214.8 1090.9 1214.5 1090.8 1212.5 1090.8 1212 1090 1208.8 1090.1 1208.5 1089.7 1207 1089.7 1206.5 1089.3 1205.5 1089.1 1204.2 1087.2 1203 1087.2 1202 1086 1201.8 1086.2 1199.2 1086.2 1199 1085.8 1198.2 1085.5 1197.5 1084.5 1195.8 1084.5 1195.2 1083.2 1193.2 1083.1 1192.8 1082.6 1190.8 1082.6 1190.5 1082.2 1189.2 1082 1188.8 1081.2 1188 1081.2 1187.8 1080.9 1187.2 1080.9 1186.8 1080.1 1185.2 1080.1 1185 1079.6 1183.8 1078.9 1183 1077.3 1182.8 1077.7 1180 1077.6 1179.5 1076.5 1177 1076.5 1175.8 1075.2 1173 1075 1172 1074.6 1171.8 1074.1 1171 1073.7 1169.5 1073.7 1168.8 1072.4 1166.2 1072.4 1165.5 1072.1 1164 1069.8 1162.8 1069.5 1162.5 1069.2 1162 1069.4 1159.5 1069.4 1158.8 1067.4 1155.5 1067.4 1155.2 1067.2 1153.8 1067.2 1153 1065.1 1151.2 1065.1 1151 1064.5 1150.8 1064.7 1148.2 1064.7 1147.2 1063 1146.2 1063 1145.5 1062.3 1145.2 1061.7 1143.2 1061.5 1142.5 1061 1141 1061 1140.5 1060.7 1139.5 1058.3 1138 1058.2 1137.8 1057.1 1137.5 1056.8 1137.2 1056.8 1136.5 1057.3 1133.8 1057.2 1132.8 1056.6 1132 1054.2 1131.2 1054.5 1128.8 1054.5 1128 1053.3 1127.2 1053.3 1127 1052.8 1126.8 1052.8 1125.8 1051.9 1125 1051.8 1124.5 1051.2 1124 1051.2 1123.5 1050.3 1121.5 1050.3 1121 1049.9 1118 1049.9 1117.5 1048.6 1117.2 1048.2 1117 1048.2 1116.8 1047.6 1115.5 1047.5 1115.2 1047.1 1114 1047.1 1113.8 1046.9 1111.2 1046.9 1110.8 1045.3 1110.5 1045.1 1108.8 1045.1 1108.5 1044.8 1107 1044.8 1106.8 1044.4 1106.5 1044.4 1106.2 1044 1106 1044 1105.8 1042.8 1105.2 1042.5 1103.8 1042.5 1102.8 1041 1102.2 1041 1102 1040.6 1101.5 1040.6 1101.2 1040.3 1099 1040.3 1098 1039.3 1096 1039.3 1095 1038.7 1094.8 1037.8 1094.5 1037.5 1092.8 1037.5 1092.5 1037.3 1091.5 1035.3 1090.5 1035 1089 1035 1088.8 1034.8 1088.5 1034.1 1088.2 1034.1 1088 1033.6 1087.5 1033.3 1086 1033.3 1085.2 1032 1083.8 1031.9 1083.2 1030.5 1082.8 1030.1 1080.5 1030.1 1080.2 1029.7 1078.8 1029.7 1078.5 1029.2 1078.2 1029.2 1078 1028.5 1077.5 1027.8 1074.2 1027.5 1074 1027.1 1073.5 1027.1 1073 1026.2 1071.2 1026.2 1071 1025.4 1070.5 1025.3 1070.2 1024.9 1069.8 1024.6 1068 1024.6 1067.5 1023.3 1067 1023.3 1066.8 1023.7 1064.2 1023.7 1064 1023.4 1063.2 1023.3 1063 1023 1062.5 1023 1061.5 1022.6 1061 1022.3 1060.8 1021.8 1059.5 1021.8 1058.2 1020.5 1056.8 1020.4 1055.2 1017.3 1055 1017.6 1052.5 1017.6 1052 1016.3 1050.8 1016.2 1050.2 1014.4 1050 1014.3 1049.5 1012.3 1049 1012.3 1048.5 1011.1 1047 1011.1 1046.8 1010.4 1046.5 1010.4 1046.2 1009.9 1046 1008.8 1041.5 1008.6 1041 1009.2 1039.5 1009.3 1039 1009.5 1036.5 1009.5 1036 1008.8 1035.2 1008.6 1034.2 1007.8 1034 1006.6 1033.2 1005.1 1033 1004.9 1032 1004.9 1031.8 1004.3 1031 1003.6 1030.8 1002.9 1030.5 1002.9 1030.2 1002.4 1030 1002.4 1029.5 1001.4 1029.2 1001.4 1027.8 1000.4 1027.5 999.7 1026.5 999.7 1026 1000.1 1023.2 1000.1 1022.5 999.9 1021.5 1000.1 1019 1000.1 1018.5 999 1017.5 998.4 1017.2 997.9 1016.8 997.5 1016.5 996.3 1015.8 996.3 1015.5 995.7 1015.2 995.7 1015 995.4 1014.5 993.5 1013.8 992.3 1013 992.1 1012.8 991.4 1012.5 991.2 1012.2 989.9 1012 989.6 1011.8 988.5 1011.5 988.2 1011 988.1 1010.8 987.1 1010.2 987.5 1007.8 987.5 1007.5 987.2 1006.2 987.2 1006 987.5 1003.2 987.5 1003 987.2 1002.8 987.2 1002.5 986.6 999.2 986.4 999 986.1 998.5 986.1 998.2 985.4 997.8 985.3 997 984.4 995.5 984.3 995.2 983.5 994.8 983.3 994.2 981.4 994 981.2 993 981.1 992.8 980.7 992.2 980.7 992 979.9 990.5 979.9 990 979 988.8 978.9 988.2 977.6 986.2 977.6 986 977.4 985.5 977.4 984.8 976.9 984 976.1 983.5 974.1 982 974.1 981.8 974 981.2 972.1 979.5 972.1 979 970.8 976.2 970.8 976 970 975.5 969.8 975.2 968.9 974.8 968.6 974.5 968 973.8 967.3 972.2 967.2 972 966.2 970.2 966.1 970 965.4 969.8 965.3 968.5 965.3 968.2 964.9 966 964.9 965.5 963.5 965.2 963.5 965 963.2 963.2 963.2 962.5 961.8 960.2 961.7 959.2 961.1 959 960.6 958.5 960.4 958 959.7 957.8 959.7 957.5 959.1 956.8 959 956.5 958.6 956.2 958.6 956 958 955.5 957.5 953.8 957.4 953 955.3 951.5 955.3 951 954.4 948.5 954.4 948 953.4 946.5 953.4 946.2 953.3 945.2 950.5 945 950.8 942.5 950.8 942.2 950.3 941.8 950.2 941.2 948.5 940.8 948.1 939 948.1 938.5 947.9 937.8 946.3 936.2 946.2 936 945.7 935.5 945.7 935 944.4 934.8 944.4 934.2 943.6 931 943.6 930.5 943.2 930 943.2 929.8 942.1 929.2 941.4 927.2 941.3 927 940.7 926.5 940.5 925 940.5 924.8 939.9 922.8 939.8 922.5 938.9 922 938.9 921.5 937.8 920 937.7 919.8 937.4 919 937.4 918.5 937.1 918.2 936.3 917.5 936.1 917.2 935 917 934.9 916.8 934.4 915.8 934.4 915.5 933.8 915.2 933.8 915 933.4 914.8 934 912.2 934 911.5 933.5 910.8 932.6 910.2 932.6 909.8 932.2 909.5 932.2 908.8 930.7 906.8 930.7 906 930.3 904.5 930.3 904.2 930.1 904 929.4 903.5 928.9 902.5 928.1 902.2 927.4 900.8 927.2 900.5 926.2 898 926.2 897.2 924.8 896.2 924.8 895.8 924.5 895.5 923.9 895 923.4 892.8 923.4 892.2 921.9 891.8 921.8 891.5 920.7 889.8 920.6 889.5 920.3 887.8 920.2 887.5 919.6 887 919.6 886.5 918.7 886.2 918.7 886 918.4 884.2 918.2 884 917.5 883.5 917.4 882.5 916.7 882.2 916.2 880.8 915.9 880 915.4 879.5 914.9 877.8 914.9 877 914.3 876.5 914.3 875.2 912.6 874.8 912.4 874 912.2 871.8 912.2 871.2 912 871 911.5 869 911.3 868.8 910.9 868 910.8 867.8 910.4 866 910.3 864.8 909.3 862.5 909.2 861.2 908.7 860.8 908.2 860.2 908.1 859.8 907.8 858.5 907.6 858 907.2 856.5 907.1 855 906.4 853.8 906.3 852.8 905.8 851.2 905.7 848.2 904.7 845.8 904.2 844.5 903.7 835.8 901.8 821.2 899.3 781.5 893.8 770.2 891.6 759.2 888.9 753 887.1 747.2 885.2 741.5 883 736 880.6 731.8 878.4 727.5 876 718.2 869.9 713.5 866.4 709.2 862.9 705.2 859.2 701.5 855.4 697.2 850.6 694 846.5 691.2 842.6 688.5 838 686 832.9 680.8 818 678 811.7 674.8 805.2 674.5 805.2 667 790.7 666.8 790.7 659.2 776 659 776 651.8 759.5 651.5 759.5 647.5 749.1 644 737.9 643.8 737.9 643.2 736 640 721.8 626.2 655.6 622 633.1 613.5 585.5 607.8 551.9 603 521.9 595.5 468.9 585.5 395.7 583 379.3 579.2 356.7 570.5 306.6 560.8 254.7 555.2 228.4 553.5 222.4 551.8 217.5 550.2 214.5 548.5 212.5 547.2 211.4 544.5 214.2 543.2 216 541.5 219.4 539 225.2 532.2 244.9 524.8 268.7 522.5 277.2 517.5 299.3 513.2 314.1 509 326.7 505.2 336.2 503.2 340.8 502 343.2 500.8 345.1 498 348.2 496.2 349.8 494.5 350.5 488.8 350.4 487.5 349.5 486 347.5 482.2 340.6 481 337.9 472.2 315.6 470.2 309.9 468.5 304.1 467.2 299.4 466 293.4 461 264.7 451.2 215 447 198.1 445.8 194.7 444 191.6 442.5 194.2 441.5 196.7 438.2 207.9 435.2 221.4 432.2 238.2 430.2 252.9 425.2 296.7 421.8 324.3 418.5 356.3 415.8 379.2 413.2 397.7 412 405.7 409.8 415.8 408.5 420.2 407.8 421.9 407.2 422.4 402 422.5 401.5 422.2 401 421.4 400 418.6 396.5 404.5 394.2 393 393.2 386.5 391.2 368.9 390.2 362.5 388.5 354.5 385.8 344.9 384.8 348.5 383.5 354.9 381.8 367.8 380 386.2 378.8 405.6 376.8 449.1 375.5 484.6 374.8 515.4 372 707.9 371.5 731.2 370.8 750.2 370 763.9 366.5 816.1 358.8 912.8 355.2 967.5 353.2 988.4 352 998.2 351.5 1000.4 351 1001.2 346 1001.2 345.8 1001 345.2 999.8 344.2 994.7 342.8 984.3 340.5 957.7 339.8 950.7 338.5 944.4 337.5 948.7 336 960.8 334.5 977.4 332 1018.2 323 1145.4 320.2 1174.1 319 1181.9 317.8 1186.8 316.5 1188.1 315.5 1188.5 271.5 1188.5Z"/>
<path fill="#008000" stroke="#008000" d="M271.5 1186.1L312.8 1186.1 313.8 1185.5 314.8 1184.4 315.5 1181.9 316.5 1176.8 317.8 1167.3 319.8 1146 326 1062.7 331 1003.9 333.5 980.7 334.2 975.9 335 972.9 336.2 968.6 337.2 966.3 338 965.6 343 965.6 343.5 965.8 344.2 966.9 345 968.7 346.8 974.9 349 991.2 361.2 853.7 365.5 799.6 367 775.1 368.2 750.4 369.8 710.6 371.5 636.8 373.5 583.8 375 535.8 376.8 498.2 378.2 473.3 379 465 380.2 457 381.5 451.9 382.2 450.4 383.8 448.5 385 447.6 386 447.3 391.2 447.3 392 447.8 392.8 448.7 396 454.9 398.8 462.9 401 468.5 402.5 463.8 403.5 457.8 405.5 439.5 406.2 434.3 407.2 429.7 409.8 420.7 410.8 415.5 411.5 408.9 413.2 388.7 414 382.8 415.2 376.3 418.5 363 420 354.1 422 338.4 427 294.1 430.2 268.9 432 256.8 434 246.1 435.8 238.9 436.5 236.8 438.2 233.2 439.2 231.8 440 231.5 445 231.5 446 232 447 233.5 448.2 236 450 240 451 243 452.5 248.7 457.5 270.2 464 291.5 466.8 301.9 469.5 314.6 479.2 363.5 484 383.9 486.2 392.4 490 405 491.5 408.6 494 412.8 497 409.7 499 406.7 501.5 401.7 505 393.6 508.5 383.5 518.8 350.4 524.8 332.7 532.2 313.2 534.5 308.2 538.2 300.8 540.2 298 542.8 295.9 544.5 294.8 546 294.4 551.5 294.4 553 295.2 554.5 296.9 557.2 301.2 558.2 303.5 560 309 564.5 325.6 576.2 372.2 580 389.1 584.5 412.1 589.5 440.8 594 469.2 601 516.7 606.2 555.7 608.8 571.7 622.5 650.6 635.8 722.9 638.5 736.6 641 746.9 643.8 756.8 644 758.5 645.2 762.6 648.2 771.7 651.5 780.2 651.8 781.5 654.5 788.5 656.8 794.9 659 801.8 659.2 803.4 662.5 813.7 666.8 826.3 667 827.6 670.8 836.8 674.5 845.4 675 847 679.8 856.7 684.2 864.8 688.2 871.2 692.5 877.4 697.5 884.1 703.2 891.4 708 896.9 712.2 901.5 716.2 905.3 720.8 909.2 726 913.3 732.5 918 745.2 926.4 755.2 932.1 771.2 940 774 941.6 776.5 942.7 777.8 943.6 779.2 944.1 781.2 945.1 782 945.9 783.2 946.4 783.8 947 785 947.6 786.5 948.6 788.2 949.2 790.2 950.5 791.5 950.9 792.5 951.6 793.8 953 795.2 953.2 796.2 953.9 796.5 954.2 796.8 954.2 797 954.6 797.8 955 798 955.4 798.2 955.5 799 956.4 800 956.6 801 957.6 801.5 957.7 802.5 958.9 803.8 959.1 804.2 960.1 805 960.7 806 960.8 808.2 963 809.5 963.2 810.5 964.2 811 964.2 811.2 964.7 811.8 964.9 812.2 965.6 812.8 965.6 813.2 966.5 815 967 816 968.6 817.2 968.8 818.2 969.4 819.5 969.7 820.8 971.2 821.2 971.3 822.5 972.1 824.2 972.3 826.2 974.2 827.8 974.3 828 974.5 828.8 976.1 830.2 976.3 830.5 976.6 831.2 976.9 832.2 978.1 834.2 978.1 834.8 978.6 835.2 979.4 836.5 979.4 836.8 979.6 838 981.4 839.8 981.5 841 984 842.8 984 843.2 984.8 843.8 985.1 845 985.2 845.5 985.7 845.8 985.8 846.5 987.3 847.2 987.5 848.2 988.2 849 988.3 849.2 988.9 849.8 989.3 851 991.4 852.2 991.6 852.5 992.1 853.2 992.5 853.5 993.2 854 993.4 855 994.6 856.2 994.7 856.8 995.7 857 995.7 857.2 996.5 858.8 996.7 859 997 859.2 997 860 998.1 861 998.5 861.5 999.8 862.2 1000.8 863.5 1000.8 865.2 1003.5 866 1004.1 867.8 1004.1 868 1004.3 869 1005.2 869.2 1005.7 869.5 1005.7 870.2 1007 870.5 1007 870.8 1007.6 871.2 1007.9 872 1007.9 872.2 1008.2 872.8 1008.2 874 1010.2 874.2 1010.9 875 1011.7 876 1011.7 876.2 1012.1 876.8 1012.3 878 1014.2 878.5 1014.2 878.8 1015 879.2 1015.4 879.5 1015.9 880.8 1015.9 881.5 1016.8 882 1016.8 882.2 1017.4 882.8 1017.4 883.2 1018 883.5 1018 884.2 1019.4 885 1019.4 885.5 1019.7 886 1020.4 886.2 1021.4 886.8 1021.7 887 1022.2 887.8 1022.5 888 1023.3 888.8 1023.4 889.5 1024.3 890.5 1024.4 891 1025.6 891.2 1025.8 892 1025.8 892.2 1026.1 892.8 1027.3 893.5 1028.3 894 1028.4 894.2 1028.7 894.8 1028.7 895 1029.7 896 1031.1 896.8 1031.1 898 1033.5 899.2 1034.1 900 1034.2 900.2 1034.6 900.5 1034.6 901 1035.2 901.5 1036.6 902.2 1036.6 902.8 1036.9 903.5 1038.5 904.2 1038.5 905.2 1039.8 905.8 1040.9 907.2 1041.5 908 1042.5 908.2 1043.1 909 1043.1 909.2 1043.4 909.5 1043.4 910.2 1045.4 911.5 1045.4 912.5 1047.2 913 1047.3 914 1048.2 914.2 1048.8 914.5 1048.8 915 1049.9 915.2 1049.9 916.2 1050.8 917.5 1052.6 917.8 1052.9 919 1053.1 919.2 1053.8 920.2 1055.3 921.2 1055.4 922 1056.8 922.2 1056.8 922.8 1058 923 1058.1 923.5 1059.4 924.8 1059.4 925 1060 925.5 1060 926.2 1060.5 927.2 1063.2 929 1063.4 930 1065.7 930.8 1065.7 931.5 1066.6 932.2 1066.9 932.8 1066.9 933.2 1067.6 933.8 1067.9 934.2 1068.9 934.8 1069 935.2 1070.1 936 1071 936.8 1071.7 937 1071.7 937.5 1072.5 938 1072.5 938.2 1072.8 939 1072.8 939.2 1073.7 939.8 1073.9 940.2 1074.6 942 1074.7 942.2 1075.1 942.8 1075.3 943 1075.9 943.8 1076 944 1076.5 945.2 1077.1 946 1078.3 947 1078.4 947.5 1078.6 948.2 1079.5 949.5 1079.8 950 1080.3 950.2 1080.3 951.5 1081.2 951.8 1081.9 952 1082.2 952.5 1082.3 952.8 1083.1 953.8 1083.6 955 1083.6 955.2 1083.9 955.8 1084 956.2 1084.7 957.2 1085.2 957.8 1086 958 1086 958.5 1087.2 958.8 1087.4 961.2 1087.5 962 1089 963.8 1089 964.5 1089.3 965.2 1091 966.5 1091.1 966.8 1091.4 967.2 1091.4 967.8 1092.4 968.8 1092.5 969.8 1093.4 971.2 1093.4 972.2 1094.6 973.8 1094.6 974.5 1095.1 974.8 1095.8 976 1095.9 976.8 1096.7 977.2 1096.7 978.2 1098.1 979.2 1098.3 980 1099.6 981.8 1099.7 982.2 1100.5 982.8 1100.8 983 1101.4 983.2 1101.4 984.2 1102.2 984.5 1103 985.8 1103.2 987 1104.8 987.5 1104.8 988.2 1105.3 989 1106.7 989.2 1106.7 990.5 1108.3 990.8 1108.5 992 1108.5 992.2 1109 992.8 1109.4 993.2 1110.6 994.5 1110.6 994.8 1111.1 995 1111.1 995.5 1112.2 997 1112.2 997.2 1113 997.8 1113.5 998 1113.5 998.5 1114.1 999 1115.2 1000.8 1115.3 1001 1115.5 1001.5 1115.5 1001.8 1116 1009.5 1116.3 1010 1116.4 1010.2 1117 1012.5 1117.1 1013 1117.6 1015.8 1117.5 1016.2 1118.3 1016.8 1119.6 1017 1119.6 1017.5 1120.3 1018 1120.6 1018.8 1123.1 1019.2 1124 1020 1124 1021.2 1126.2 1022.2 1126.5 1022.8 1127 1023 1126.5 1025 1126.3 1025.5 1125.4 1026 1125.4 1026.5 1124.7 1026.8 1124.7 1027.2 1123.9 1030.5 1123.8 1030.8 1124.4 1032 1124.9 1033.2 1125.7 1034.5 1127.5 1035.8 1130.5 1036.8 1130.6 1037.2 1131.2 1038 1132.8 1038.2 1132.9 1039 1133.7 1039.2 1134.3 1040.5 1132.5 1040.8 1132.5 1041 1132.1 1042 1131.4 1042.5 1131.2 1045.2 1131.2 1045.8 1132 1046.5 1132.4 1047.8 1132.4 1048 1132.8 1048.2 1132.8 1048.5 1133.5 1049.8 1134 1051.2 1137 1053 1137.4 1054.2 1139.7 1055 1139.7 1055.5 1139 1058.2 1139 1059 1139.2 1059.2 1138.5 1059.5 1138.5 1061.8 1138.5 1062.2 1138 1064.8 1138 1065 1138.5 1066.5 1138.5 1067 1139.3 1067.8 1139.9 1068.8 1139.9 1069.8 1140.7 1070.5 1140.9 1073.5 1141 1074 1141.9 1074.5 1142.3 1076.2 1142.3 1076.8 1143.3 1077.2 1143.3 1077.5 1143.7 1079.5 1143.7 1079.8 1144.2 1081.2 1144.2 1081.8 1144.4 1082 1144.9 1084.5 1144.9 1085.5 1146.4 1086 1146.4 1086.2 1146.2 1088.8 1146.2 1089.2 1147.4 1093 1147.6 1093.5 1148.1 1094.8 1148.1 1095.5 1148.3 1095.8 1148.7 1097 1148.8 1097.8 1149.7 1098.8 1149.7 1099.8 1150.2 1102.5 1150.3 1103 1150.9 1103.2 1150.9 1103.5 1151.3 1104.2 1151.4 1105 1152.3 1105.5 1152.2 1105.8 1151.8 1108.2 1151.8 1109 1152.7 1109.2 1152.5 1112 1152.6 1112.5 1153.1 1113 1153.1 1113.2 1153.7 1113.8 1154 1116.5 1153.9 1117 1154.7 1120.2 1154.6 1120.5 1154.9 1121 1154.9 1121.2 1155.2 1121.8 1155 1124.2 1155 1124.5 1155.3 1126.2 1155.9 1126.5 1156.2 1128.8 1156.2 1129.2 1156.7 1132.8 1156.6 1133.5 1156.7 1134 1157.3 1134.5 1157.3 1135 1157.7 1137.5 1157.7 1138.2 1158.6 1140.2 1158.7 1140.8 1159.4 1143 1159.4 1143.5 1159.8 1145.2 1160 1145.8 1160.3 1146.8 1160.3 1147.2 1160.6 1147.5 1160.2 1150 1160.2 1150.2 1160.6 1151.8 1160.6 1152 1161.3 1154 1161.3 1154.5 1161.6 1155 1162.3 1155.5 1162.1 1157.5 1162.1 1158 1161.7 1160.5 1161.7 1161.5 1162.4 1163 1162.5 1163.2 1162.8 1164.8 1162.8 1165 1162.6 1168 1162.6 1168.5 1162.6 1169 1163.2 1169.5 1163.1 1172 1163.1 1172.2 1163.4 1172.5 1163.4 1172.8 1163.9 1175.8 1164 1176.2 1164 1176.5 1163.7 1179.8 1163.6 1180.2 1164 1184.8 1164.2 1185.5 1164.9 1186.2 1164.9 1186.8 1164.6 1190 1164.7 1190.8 1165.5 1191.8 1165.5 1192.2 1165.2 1195.2 1165.2 1195.8 1165.9 1200 1166.3 1200.5 1166.8 1201.5 1166.5 1202 1166.2 1204.5 1166.2 1205 1166.7 1207.2 1166.7 1207.5 1167.4 1207.8 1167.5 1208.2 1167 1211.2 1167 1211.8 1168.2 1212 1168.1 1212.5 1167.3 1215 1167.3 1215.8 1167.9 1219 1167.8 1219.2 1168.2 1220.5 1168.2 1221 1168.5 1223.8 1168.4 1224 1168.6 1224.5 1168.6 1225.5 1169.3 1227.5 1169.3 1228.5 1169.7 1229 1169.6 1229.2 1169.2 1231.8 1169.2 1234 1169.5 1234.5 1169.8 1236 1169.8 1237 1170.5 1240 1170.5 1240.2 1170.8 1240.8 1170.8 1241 1171.2 1241.5 1171.3 1241.8 1171.6 1247 1171.4 1247.5 1171.6 1248.8 1171.6 1249.2 1172.5 1250.5 1172.6 1250.8 1172.8 1254 1173 1254.5 1173.9 1256.8 1173.9 1257.5 1173.6 1257.8 1173.3 1260.2 1173.3 1260.5 1173.9 1262.5 1173.9 1262.8 1174.6 1263.2 1174.4 1263.5 1173.9 1266 1173.9 1266.5 1173.9 1267.2 1174.4 1267.5 1174.3 1270 1174.3 1270.2 1174.7 1271 1175 1271.2 1175.3 1272.8 1175.1 1273 1174.7 1275.5 1174.7 1276.5 1174.8 1276.8 1175.1 1277.2 1175.3 1280.8 1175.5 1281 1175.7 1281.5 1175.8 1281.8 1176.3 1282 1175.9 1282.8 1175.7 1283 1175.4 1287.2 1175.5 1287.5 1176 1287.8 1176 1288.2 1175.6 1294 1175.3 1294.2 1175.5 1298.5 1175.6 1299.2 1176.5 1301.2 1176.5 1301.8 1176 1304.2 1176 1304.5 1176.6 1305 1175.8 1310.2 1175.6 1311.8 1175.6 1312.2 1176.5 1312.8 1176.8 1313.2 1176.6 1314 1175.8 1316.8 1175.8 1318.2 1176.9 1319 1176.9 1319.2 1176.7 1320.2 1176.5 1323 1176.6 1324.2 1176.8 1324.5 1176.5 1328.8 1176.5 1329.2 1176.1 1331.8 1176.1 1332.2 1176.4 1332.5 1176.9 1332.8 1176.5 1333.2 1176.5 1333.5 1176.2 1338 1176.2 1339 1176.8 1340.2 1176.8 1341 1176.4 1344.2 1176.5 1344.8 1175.9 1347.5 1175.9 1348 1176.2 1350.2 1176.2 1350.8 1176.9 1351 1176.9 1351.5 1176.4 1353 1176.4 1354 1176.1 1356.2 1175.9 1357 1174.8 1357.2 1174.8 1357.8 1173.8 1358 1173.7 1358.5 1172.3 1359 1172 1359.2 1171.5 1359.8 1171.5 1360.2 1171.1 1360.5 1171 1361.2 1170 1363 1170 1363.5 1168.7 1364.2 1168 1365.8 1168 1366 1167.9 1366.2 1167.4 1371.2 1167.5 1372 1168.1 1372.5 1169 1373 1169.3 1373.8 1169.5 1374 1170.1 1375.2 1171.1 1375.5 1171.1 1376 1171.8 1376.5 1172.2 1377 1172.2 1377.5 1173.3 1378 1173.6 1378.8 1173.6 1380 1174.6 1380.8 1174.7 1381 1175 1383.5 1175 1384.2 1176 1385.8 1176 1386.5 1176.6 1387 1177.5 1388.2 1178.1 1389 1179.2 1390.2 1180 1391.5 1181.9 1391.8 1181.9 1392.5 1181.3 1394.2 1181.3 1394.8 1180.6 1396.2 1179.5 1397.8 1179.3 1400.2 1179.3 1400.5 1179.6 1402.2 1179.9 1403.5 1179.9 1403.8 1180.2 1405.5 1180.8 1406.5 1181.7 1407.2 1182 1408.5 1182 1409.5 1182.4 1411.5 1182.1 1414 1182.1 1414.5 1182.4 1416.2 1182.1 1418.8 1182.1 1419.5 1182.4 1420.5 1182.1 1423 1182.1 1432.2 1182.2 1433 1182.4 1438.8 1182.3 1572 1183 1624 1184.4 1686.8 1185.3 1806.2 1185.4 1806.2 1187.8 1678.8 1187.7 1620.5 1186.7 1576.2 1185.5 1551 1185.3 1450.2 1184.8 1430.8 1184.9 1430 1184.8 1427 1184.9 1422.8 1184.8 1421.8 1185 1417 1184.9 1416.2 1185.1 1413.5 1185.1 1412.2 1184.8 1411 1185.1 1408.5 1185.1 1404.2 1184.3 1403 1183.2 1401.2 1182.6 1400 1182.5 1399.2 1182.1 1398.5 1182.2 1398 1182.4 1397 1183.3 1396.8 1183.7 1396 1184.2 1394.5 1184.2 1394 1184.7 1392.8 1184.8 1392.2 1185 1389.8 1185 1389 1184.3 1387.8 1182.4 1386.5 1181.6 1385.8 1180.5 1384.5 1179.9 1384 1179 1382.2 1179 1381.2 1177.8 1379 1177.7 1378.5 1177.5 1378.2 1177.1 1377 1176.9 1376.8 1176.5 1375.8 1176.4 1375 1175.7 1374.5 1174.7 1373.5 1174.2 1373 1173.5 1372.8 1173.5 1371.5 1172.5 1371.2 1171.9 1370.5 1171.9 1369.8 1170.9 1366.2 1170.8 1365.2 1172.8 1363.5 1172.8 1362.2 1174.1 1361.8 1174.1 1361.2 1174.5 1360.5 1176.1 1358.8 1178.3 1358 1178.6 1357.8 1178.9 1355.8 1179 1355 1179.6 1353 1179.7 1352.8 1179.9 1352 1180.1 1349 1180.1 1348.8 1180 1348.5 1179.5 1346.5 1179.5 1346 1180.1 1343.5 1180.1 1343.2 1180 1343 1179.4 1341.2 1179.4 1341 1179.8 1339.5 1179.8 1339.2 1179.9 1336.8 1179.9 1336.5 1179.3 1335.8 1179.2 1335.2 1179.2 1334.8 1180 1332.2 1180 1330 1179.7 1329.8 1180.1 1326.5 1180.1 1326 1179.7 1325.8 1180 1323.2 1180 1322.8 1179.5 1319.2 1179.9 1316.5 1179.9 1315.8 1179.4 1315 1179.9 1311.8 1179.9 1310.2 1179.3 1310 1179 1309.8 1178.9 1309.5 1178.4 1309.2 1179 1306.8 1179.1 1306.2 1179.7 1302.8 1179.6 1302.5 1179.4 1301 1179.4 1300.5 1179.6 1297.2 1179.6 1296.5 1178.9 1292.8 1179 1292.2 1178.8 1292 1178.5 1288.2 1179.1 1285.8 1179.1 1285.5 1178.7 1285 1178.7 1284.5 1178.4 1284.2 1178.8 1283.2 1178.8 1283 1179.1 1279.5 1179.1 1279 1178.4 1278.5 1178.3 1277.8 1178.6 1275.2 1178.6 1274.8 1177.7 1274.5 1177.6 1274.2 1178.2 1273.8 1178.2 1273.5 1178.6 1273.2 1178.6 1270.8 1178.6 1270 1178.2 1268.8 1178.1 1268.5 1177.4 1268 1177.4 1265 1177.3 1264.8 1177.8 1261.5 1177.8 1261 1177.8 1260.5 1177.3 1259 1177.2 1258.5 1176.9 1253.8 1176.9 1253.5 1176.6 1252.2 1176.5 1251.8 1175.8 1248.5 1175.7 1248.2 1175.4 1247.5 1175.4 1247.2 1175 1246.8 1175 1246.5 1174.5 1244.2 1174.7 1244 1174.9 1239.5 1174.7 1239.2 1174.1 1238 1173.8 1237.8 1173.5 1235.8 1173.4 1235.5 1173.1 1232.2 1173.1 1231.8 1172 1231 1172.1 1230.8 1172.5 1230 1172.6 1229.8 1172.9 1227.2 1172.9 1225.2 1172.3 1223.2 1172.2 1222.8 1171.6 1219.5 1171.7 1219.2 1171.4 1218.8 1171.3 1218.5 1171.4 1213.8 1171.5 1213.5 1171.3 1209.8 1171.1 1209.2 1170.8 1206 1170.7 1205.8 1170.2 1205.5 1170.2 1205.2 1169.9 1203.5 1169.8 1203.2 1169.5 1202.5 1169.3 1201.5 1169.7 1201.2 1170 1198.8 1170 1198.2 1169.2 1195 1169.1 1194.8 1168.7 1194 1168.5 1192.5 1168.6 1192 1169 1189.2 1169.1 1188.5 1169 1188 1167.9 1186.2 1167.9 1186 1168.2 1183.5 1168.2 1183.2 1167.9 1178.5 1167.8 1178.2 1167.3 1177.8 1167.1 1176.2 1167.1 1176 1167.5 1173.5 1167.5 1173.2 1166.9 1168.2 1166.7 1168 1166.3 1167.2 1166.3 1167 1165.9 1166.2 1165.8 1165 1165.8 1164.5 1166.3 1161.8 1166.4 1161.5 1166.3 1161 1165.5 1160.8 1165.5 1160.5 1165.1 1159.5 1165.1 1159.2 1165.4 1154.2 1165.5 1153.8 1165.1 1152.8 1165.1 1152.2 1164.7 1150.5 1164.6 1150 1164.3 1149.8 1163.7 1148.8 1163.7 1148.2 1164.1 1145.8 1164.1 1145.5 1164 1145.2 1163.5 1145 1163.5 1144.8 1163.2 1144 1163.2 1143 1162.9 1140 1162.9 1139 1162.7 1138.8 1162.1 1138 1161.7 1136.5 1161.7 1136.2 1161.3 1136 1161.5 1133.5 1161.5 1133 1160.6 1132.8 1160.6 1132.2 1160 1129.2 1160.1 1128.5 1159.3 1128 1159.3 1127.5 1159.7 1125 1159.7 1124.8 1159.2 1123.8 1158.5 1121 1158.5 1120.8 1158.2 1119 1158.2 1118.5 1157.7 1116.2 1157.7 1116 1157.5 1114.5 1157.3 1114.2 1156.9 1111.5 1156.7 1110.5 1155.7 1110 1155.7 1109.8 1156 1107.2 1156 1106.8 1155.9 1106.5 1155.4 1106.2 1155.3 1103.2 1155.2 1102.5 1154.8 1102 1154.2 1101.2 1153.7 1100.8 1153.5 1098.5 1153.5 1098 1153.1 1097.5 1153 1097 1152.4 1095.2 1152.3 1094.8 1151.4 1091.5 1151.2 1091.2 1150.8 1090.8 1150.7 1087.5 1150.5 1087 1149.9 1085 1149.9 1084.5 1149.1 1084.2 1149 1083 1149 1082.8 1148.5 1082.5 1148.3 1080.2 1148.3 1079.8 1148.1 1079.2 1147.2 1078 1147.2 1077.2 1146.8 1076 1146.8 1075.8 1146.4 1074.5 1146.1 1074 1145.3 1072.5 1145.3 1072 1145.1 1071.2 1143.7 1068.8 1143.6 1066.8 1142.9 1066.5 1142.5 1065.2 1142.5 1064.8 1141.7 1064.2 1141.5 1063.5 1141.7 1061 1141.7 1060.5 1142.2 1058 1142.2 1057.8 1142 1057 1142.7 1052.5 1142.7 1052 1142.2 1051.8 1142.2 1050.5 1139.9 1049 1139.8 1048.5 1139 1048.2 1138.1 1048 1138.1 1047.8 1137.6 1047.5 1136.7 1047 1136.7 1046.8 1136.3 1046.2 1136.3 1045.8 1135.4 1044.8 1135.3 1043.5 1134.5 1043.2 1135.1 1043 1135.1 1042.5 1135.8 1042 1136.1 1041.8 1137 1041.5 1137 1041 1137.4 1037.8 1137.4 1037 1137.1 1036.5 1136.1 1035.8 1135.3 1035.5 1135.2 1034.8 1133.6 1034.2 1133.1 1033.5 1133.1 1033.2 1132.9 1032 1129.9 1030.8 1128.1 1029 1127.3 1028.5 1128 1028 1128 1027.5 1129 1026.8 1129.7 1025.2 1129.7 1025 1130 1024.2 1130.1 1021.8 1130.1 1020.8 1129.9 1020 1129.2 1019.5 1129.2 1019.2 1128.7 1018.8 1128.7 1018.2 1127.5 1017.5 1126.5 1016.8 1126.5 1016.2 1125.5 1015.5 1123 1015 1122.7 1014.5 1122 1014.2 1122 1013.8 1120.7 1012 1120.7 1011 1120.3 1008.2 1120.2 1008 1119.9 1005.8 1119.9 1004.8 1119.1 999.5 1118.8 999 1118.3 997.8 1118.3 997.2 1118.1 996.5 1117.6 996 1116.5 995.2 1116.1 995 1115.6 994.5 1115.3 993.2 1115.3 992.5 1113.8 991.2 1113.8 991 1113.4 990.8 1113.3 990.2 1111.8 990 1111.5 988.2 1111.4 987.8 1110.3 987.5 1110.2 987 1109.4 986.5 1109.3 985.8 1107.7 985.2 1107.3 984.5 1107.2 983.5 1106.1 982.8 1106.1 982.5 1105.7 982.2 1105.7 982 1105.4 981.8 1104.6 981.2 1104.2 980.5 1104.1 980.2 1103.4 980 1103.4 979.5 1102.7 978 1102.7 977.8 1102.6 976.8 1100.9 976 1100.9 974.8 1099.2 974.2 1099.1 973.8 1098.7 973 1098.7 972.8 1098.3 972.2 1098.2 972 1097.7 970 1097.7 969.5 1096.7 968 1096.7 967.5 1096.5 966.8 1095.2 965.2 1095 964.8 1094.3 963.5 1094.3 962.5 1093 962.2 1092.3 960 1092.3 959 1090.4 956.8 1090.4 956 1089.6 955.5 1088.6 955.2 1088.6 955 1088 954.5 1087.8 954.2 1087.3 953.8 1087.2 953.2 1086.4 951.2 1086.3 950.8 1085.7 950.2 1085.6 950 1084.8 949.5 1084.8 949 1083.6 948 1082.9 947.5 1082.8 947.2 1082.5 946.8 1082.5 946.2 1082.1 945.8 1082.1 945 1081 943.8 1080.9 942.8 1079.5 941.5 1079.1 941.2 1078.4 940.5 1078.4 940.2 1077.7 940 1077.6 937.8 1077.2 937.2 1076.3 936.8 1076.1 936.5 1075.5 935.8 1075.5 935.5 1075.2 935 1075 934.5 1074.3 934.2 1074.3 932.8 1072.5 932.2 1071.5 931.8 1071.3 931.2 1070.3 930.2 1069.5 929.8 1069.4 928.8 1068.7 927.5 1068.3 926.8 1066.4 926.5 1066.2 925.2 1066.2 924.8 1065.6 923.8 1062.9 922.8 1062.8 922.2 1062.3 921.2 1062.1 920.5 1060.5 920.2 1060.4 919.8 1059.2 919.5 1059.2 918.8 1057.8 917.8 1057.7 916.5 1055.7 915.8 1055.6 915 1055 913.8 1053.2 912.8 1052.3 912.5 1052.3 912 1051.2 911.8 1051.2 911.5 1050.6 910.2 1050.1 909.5 1048.5 909 1048.2 908.2 1048.2 908 1047.9 907.8 1047.9 907 1045.8 905.8 1045.7 905.5 1044.9 905 1044.2 904.2 1044 904 1043.5 903.2 1043.3 902.8 1042.2 902.2 1041.6 902 1041.3 901.2 1041.3 901 1041 900.2 1039.3 899 1039.2 898.5 1037.6 898 1037 897.2 1036.9 897 1036.6 896.2 1036.5 895.5 1035.9 894.5 1034 893.8 1033.9 892.2 1031.6 892 1031.6 891.5 1031 891 1031 889.8 1028.5 888.8 1028.2 888 1027 887.5 1027 886.2 1026 885.5 1025.9 885.2 1024.9 884.5 1024.7 884.2 1024.1 883.8 1023.8 883.5 1022.8 883 1022.3 882.2 1022.3 882 1021.9 881.8 1021.9 881 1020.6 880.8 1020.6 880.2 1019.8 879.8 1019.8 879.5 1019.4 879 1019.4 878.5 1018.6 877 1018.3 876.8 1017.8 876.2 1017.4 876 1016.7 875.5 1016.7 875.2 1016 875 1015.7 874.8 1015.7 874.5 1015.2 874 1015 873.5 1014.3 872.5 1014.2 871.8 1013.3 871.5 1012.6 870.2 1010.7 868.2 1010.2 868 1009.4 867.8 1009.4 867.5 1008.7 867.2 1008.5 866.8 1008.5 866.5 1007.6 865.8 1007 864.5 1007 863.8 1006.8 862.2 1005.4 861.5 1003.8 860.5 1003.7 860.2 1003.5 859.8 1003.4 859 1002.2 858.5 1000.9 857.5 1000.7 857.2 1000.1 857 1000.1 856.8 999.6 855 999.4 854.5 998.5 854.2 998.5 854 997.7 853.8 997.5 852.5 997.3 852 996.3 851.5 995.8 851 995.6 850.8 995 850.2 995 850 994.5 848.5 993.9 847.2 991.7 846.5 991.1 846 991.1 845.5 990.4 844.5 990.3 843.8 989.3 843.2 988.2 842.8 988 841.5 988 840.5 986.8 839.2 986.8 838.5 986.4 838 985.2 837.2 984 836 984 835.5 983.8 834.2 982.2 833.2 982.2 832.8 981.9 832.2 981 830 980.9 828.8 979.3 827.8 978.9 826.5 978.9 825.5 977 823.8 976.8 823.5 976.3 823 976.2 822.8 975.6 822 974.9 820.2 974.7 819 973.9 818.5 973.9 817.2 972.4 815.2 971.7 814.8 971.2 813.5 971 812.5 969.4 811.5 969.4 811 968.9 810.8 968.9 810.2 968 809.8 968 809.2 967.3 808.8 967.1 808.5 966.7 808 966.7 807 965.7 805.8 965.4 803.5 963.2 802.5 963.2 801.8 962.5 801.2 961.6 800 961.4 799 960.1 798.5 960 797.5 959 796.5 958.8 795.8 957.9 795.5 957.8 795.2 957.5 795 957.5 794.2 956.7 794 956.7 793.8 956.3 793 955.8 791.8 955.7 791 955.2 790 954 789 953.3 787.8 953 786.5 952 786 952 785.8 951.6 784 951 782.5 950 781.2 949.4 780.8 948.8 779.5 948.3 778.8 947.5 776.8 946.5 775.2 946 774 945.1 771.5 944 768.8 942.4 752.8 934.5 742.8 928.8 730 920.4 723.5 915.7 718.2 911.6 713.5 907.5 709.5 903.6 705.2 899.1 700.5 893.5 694.8 886.2 689.8 879.5 685.5 873.2 681.5 866.8 678 860.5 674.8 854.2 674.5 854.2 673.8 852.6 667 837.4 666.8 837.4 663.5 829.3 659.2 816.9 659 816.9 651.8 794.4 651.5 794.4 644 774.8 643.8 774.8 642.5 771.2 637.8 755.7 633.8 740.1 630.8 725.3 617.5 653 603.8 574.1 601.2 558.1 596 519.1 589 471.6 584.5 443.2 579.5 414.5 575 391.5 571.2 374.6 559.5 328 555 311.4 553.2 305.9 552.2 303.6 551 301.6 549.5 299.3 548.2 297.9 545 300.7 543 303.7 539.2 311.1 537.2 315.6 530.5 333 523.8 352.8 512 390.5 509.8 396.6 506.2 404.7 504.5 408.2 502.8 411.1 500 414.3 498.2 415.9 497.2 416.5 496.2 416.8 491 416.8 490.2 416.5 489.2 415.5 488.2 414.1 486.5 411 485.5 408.8 483.8 403.5 480.2 391.2 477.5 380.2 474.5 367.1 464.2 315.8 461.2 302.2 458.8 293 452.5 272.6 446.2 246.3 444.8 241.8 442.5 237 441 240.5 440 244 438 253.5 436.8 260.8 431.8 298.5 427 340.8 425 356.5 423.5 365.4 420.2 378.7 419 385.2 418.2 391.1 416.5 411.3 415.8 417.9 414.8 423.1 412.2 432.1 411.2 436.7 410.5 441.9 408.5 460.2 407.5 466.2 405.8 471.8 405 473.5 404.2 474.7 403.5 475 398.5 475 398 474.7 396.8 472.7 394.2 466.6 391 457.3 388.8 452.8 388.2 451.9 388 451.8 386.8 453.7 386 455.9 385 460.8 384 467.4 383.2 475.7 381.8 500.6 380 538.2 378.5 586.2 376.5 639.2 374.8 713 373.2 752.8 372 777.5 370.5 802 366.2 856.1 354 994 353 1002.8 352.5 1004.2 347.5 1004.2 347 1003.9 346.5 1003 345.5 1000 344.2 995.1 342 978.7 340.8 973.5 340.5 973.4 339.5 977.2 338.5 983.1 336 1006.3 331 1065.1 324.8 1148.4 322.8 1169.7 321.5 1179.2 320.5 1184.3 319.8 1186.8 318.8 1187.9 317.8 1188.5 271.5 1188.5Z"/>
<path fill="#00f" stroke="#00f" d="M271.3 1185.8L316.8 1185.8 318.3 1185 319.1 1183.9 320.3 1179.6 321.3 1174.9 323.6 1158.4 325.1 1142.2 329.6 1083.1 334.1 1011.4 334.6 1005.2 335.6 998.2 336.8 991.6 337.8 988.7 338.3 988.3 343.6 988.3 344.3 988.9 345.1 990 347.8 995.4 350.3 1002.5 350.6 1002.5 352.6 993.6 353.6 987.6 356.6 963.2 359.6 941 361.1 927.3 362.6 908.1 364.6 863.3 366.8 834.4 369.3 792 371.1 757.3 375.6 656.5 378.3 600.2 379.6 577.3 380.8 561.8 383.3 545.4 384.3 540.9 385.3 538 385.8 537.2 387.1 536.4 388.8 535.5 390.6 535 392.3 534.8 397.6 534.8 399.6 535 400.6 532.8 401.6 529.4 404.3 517.7 406.3 504.2 420.3 392.9 422.3 371.3 426.8 310 427.8 299.7 429.3 287.3 431.6 272.9 434.1 263 435.1 260.1 435.8 258.6 437.8 256 439.1 255.3 444.3 255.3 444.8 255.6 445.3 256.4 446.3 258.8 449.6 268.4 453.1 281.2 456.1 294.6 458.1 305.3 463.1 340.7 468.6 377.8 470.6 389.9 474.6 411.1 478.6 435.7 481.3 446.7 487.1 464.6 488.8 469.3 490.8 473.6 491.8 475.6 492.8 477 493.6 477.3 499.1 477.3 499.6 477.1 500.1 476.5 501.6 473.2 504.6 463.6 505.8 460.2 507.6 457.2 511.6 451.6 513.5 447.4 514.8 442.1 517.3 425.8 518.5 419.9 519.5 417.6 520.8 415.4 523 412.2 526.3 408.8 527.5 406.7 528 405.3 529.5 398.2 531.8 378.5 532.3 376.6 533.5 374 535 371.9 536.3 371.3 541.8 371.3 542.8 371.7 544.3 372.7 546.3 367.2 548.3 363.7 549.5 362.1 550.3 361.8 555.3 361.8 555.8 362.6 559.5 381.3 560.3 384.1 562 387.8 567.8 397.1 568.8 399.3 569.5 401.4 572.5 417 577.5 437.6 579.8 450.6 585.5 491.1 593 534.9 599.3 574.6 607.3 618.3 622.5 704.8 625.5 720.1 629 736 639 776.8 643.8 795.5 644 797.3 647.3 808.8 651.3 821.2 651.5 822.7 655 832.5 659 842.9 659.3 844.2 660 846.1 666.8 861.8 667 862.9 671 871.3 674.5 877.7 674.8 878.4 679.8 885.8 682.8 891.4 684.3 895.1 686.5 903.4 687.8 906.9 690.5 913.5 693.5 919.6 698.3 926.9 700.5 929.8 703.8 933.6 708.3 937.9 709.3 938.5 711 940.1 712 940.5 715 942.6 717 944.6 719.5 946.3 720.8 948.1 725.5 952.7 726.8 954.6 728 955.4 729.3 956.6 729.5 956.6 730.8 958.2 731.3 958.3 732 958.8 732.8 959.8 734 960.4 734.5 961 735.8 961.2 736 961.6 736.5 961.7 737 962.4 737.5 962.5 738 963 739 963.1 739.5 963.4 740 964.2 740.8 964.3 741 964.6 742.5 965.2 743 966.2 743.5 966.7 744 966.8 745.3 967.7 746.5 967.9 747.5 969.6 749 970.1 750.5 972.2 752 972.3 752.3 972.8 752.8 972.9 753.3 973.5 754.5 974 755 974.7 755.8 975.3 756.3 975.3 758 976.4 759.3 978 760.8 978.3 761.5 979.5 762.3 979.5 762.5 979.9 763.8 980.3 765 982.3 766.3 982.3 766.5 982.9 767 983.3 768.3 983.3 768.8 983.6 769.8 984.6 770 985.3 770.5 985.6 771 986.3 772.5 986.4 772.8 986.5 773.8 987.6 774 987.6 774.5 988 775.3 989.1 776.5 989.1 777 989.9 777.5 990 777.8 990.5 779.5 990.6 780 991.4 781.3 991.5 781.8 992 782.3 993.2 783.3 993.2 784 994.1 785 994.2 786 995.9 786.5 996.2 787.8 996.2 788.5 997.2 789 997.2 789.5 997.7 790.5 997.9 791 998.3 791.8 999.8 792 999.8 792.3 1000.1 792.8 1000.1 793 1000.5 793.5 1000.6 794 1001.1 795 1003.5 795.5 1003.6 795.8 1004 796.3 1004.1 796.8 1004.9 797.8 1004.9 798 1005.1 798.5 1005.7 799 1006.8 800.3 1007.6 801 1008.3 801.8 1008.8 802.8 1009 803.3 1009.5 803.8 1009.6 804.3 1010.2 805.5 1010.2 805.8 1010.5 806 1010.5 806.8 1011.5 809 1011.5 809.8 1011.7 810 1012 811.3 1012.1 812 1012.5 813.3 1012.6 813.8 1012.9 814.8 1014.7 815.3 1014.8 816 1015.7 816.8 1016 817.5 1017.3 818.8 1020.7 820 1022.7 820.3 1023.7 821 1024.6 821.3 1025.2 821.5 1025.3 822.3 1026.7 823.5 1027 824.3 1028.5 825.5 1028.6 826 1029.2 826.3 1029.3 829.3 1029.1 830 1029.6 831 1029.6 831.5 1029.8 832.3 1030.5 834 1030.6 834.8 1030.9 836.3 1032.2 837.3 1032.3 837.8 1032.5 839 1035.1 839.8 1035.5 840.3 1036 841.5 1039.6 841.8 1039.6 844 1045.5 846.5 1049.4 847.3 1051 848.3 1051 848.8 1051.4 850.5 1051.4 851 1051.5 851.3 1051.9 851.5 1051.9 852 1052.4 852.8 1052.6 855 1052.6 855.8 1052.8 856 1053.3 857.8 1053.3 858 1053.9 858.5 1054.4 859.5 1054.5 860.8 1056.9 861 1057.2 861.5 1057.2 862.5 1059.6 863.5 1063.1 864 1063.8 865.8 1069.5 867.5 1073 869 1076.8 869.5 1077.3 871.3 1077.2 872 1076.5 876.3 1076.7 877 1076.2 877.3 1075.9 878.3 1075.6 883.5 1075.7 884.3 1075.9 885 1076.8 885.3 1076.8 887 1080.1 887.5 1080.6 888.5 1082.2 889.5 1084.8 890 1086.7 890.8 1088.4 891.3 1088.9 891.8 1089.9 893 1094 893.5 1094.5 894 1096 894.3 1096 895.5 1098.7 896.3 1099.8 897 1099.9 897.5 1100.4 897.8 1101.1 899.3 1101.1 899.5 1101.4 899.8 1101.4 900 1101.9 902 1102.2 902.3 1102.5 902.5 1102.5 903 1101.9 905.5 1101.9 907.5 1102.6 909.8 1102.6 910.3 1103 912.3 1103 912.5 1103.4 913.8 1103.4 914.3 1103.6 914.5 1104 915.5 1104.1 917.3 1106.6 918.5 1110.9 919 1112 919.8 1113 921.8 1120.1 923 1123.3 923.3 1123.9 924 1124 925.3 1126.2 928.5 1126.1 928.8 1126 929.8 1124.8 933 1124.8 933.8 1123.6 934 1123.6 936.5 1123.6 937.3 1124.3 937.8 1124.3 938.3 1124.6 940 1124.6 940.5 1125 941.8 1125.2 942 1125.6 942.3 1125.6 942.8 1126.7 943.3 1127 943.5 1127.6 944 1127.6 945 1128.6 945.3 1129.3 946 1129.9 946.8 1130.2 947.8 1131.5 948.5 1131.9 949.8 1132 950.3 1132.5 951.5 1135.3 951.8 1135.6 952 1135.6 952.8 1136.6 953.3 1137 953.8 1137.2 954.5 1138.4 955.3 1140.2 956.3 1141.7 956.5 1141.7 957 1142.5 957.3 1142.6 957.8 1143.7 958.5 1144.7 959.8 1144.7 960 1145.2 960.5 1145.3 961 1145.7 962.3 1145.7 963.3 1145.9 964.3 1145.7 964.5 1145.4 965 1145.4 965.3 1145.2 967.8 1145.2 968.3 1145.7 968.5 1145.4 969 1145.4 969.3 1145 972.3 1145 973.5 1145.5 976 1145.7 976.8 1146.1 978 1148 979.3 1148 979.8 1148.4 980.8 1149.7 982.3 1150 983.3 1151.1 984 1151.1 984.3 1151.5 984.5 1151.5 984.8 1152.1 985.5 1152.4 985.8 1152.8 986 1152.8 986.3 1153.5 987.8 1153.9 988.5 1154.9 989.5 1155 990 1155.3 991 1155.4 991.8 1156.5 993.3 1156.5 994.5 1157 995 1157 995.5 1157.5 996 1157.5 996.5 1158.1 997 1158.4 997.8 1158.4 998.3 1159 999.5 1159 1000 1159.4 1000.3 1159.2 1001.5 1159.2 1001.8 1159 1003 1158.8 1003.3 1158.5 1003.8 1158.5 1004.3 1158.1 1008.3 1157.6 1008.8 1157.1 1013.8 1157.1 1014.3 1157.3 1014.5 1157.8 1015 1158 1015.3 1158.4 1015.8 1158.5 1016.3 1159.3 1016.8 1159.5 1017.3 1160.7 1018.8 1162.3 1019.3 1163.8 1020.3 1165.1 1020.8 1165.2 1021 1165.4 1022.8 1165.4 1023 1165.6 1023.8 1165.2 1025.5 1165.2 1026.3 1164.3 1028.8 1164.3 1029.5 1164.6 1031.8 1164.6 1032 1164.7 1032.5 1165.7 1033 1165.9 1033.8 1166 1034.5 1167.5 1035.5 1168.5 1035.8 1169.1 1036.3 1169.4 1037 1169.6 1037.5 1170.2 1038 1169.2 1039 1168.2 1039.5 1167.1 1040 1167 1041.3 1165 1047.8 1164.9 1048.3 1165.2 1049.3 1166.9 1050.3 1167.6 1051.3 1167.6 1052 1168.1 1052.8 1168.9 1053.3 1169 1053.5 1169.5 1054 1169.5 1054.5 1169.7 1060.3 1169.6 1061.8 1169.9 1062 1170.2 1062.5 1170 1065 1170 1066 1170.8 1067.3 1170.8 1068 1171.3 1069.5 1171.3 1070 1171.6 1071.3 1171.6 1071.8 1171.9 1072 1172.4 1073.3 1172.6 1073.8 1173.4 1076.5 1173.7 1076.8 1174 1077.5 1174 1078.3 1174.4 1079 1174.4 1080.3 1174.8 1081.5 1174.8 1083.3 1174.1 1083.5 1173.7 1084.3 1173.2 1086 1173.2 1086.3 1172.9 1087.5 1172.8 1087.8 1172.1 1088.3 1171.6 1090.8 1171.6 1091 1172.1 1092.3 1172.1 1092.5 1172.2 1093.5 1173.7 1094.3 1173.7 1094.5 1174 1096.8 1174.1 1097.3 1175 1098.5 1175 1099 1175.3 1100 1177.5 1101 1177.7 1101.3 1178.2 1101.5 1178.3 1102.8 1178.3 1103.8 1179 1104 1179 1104.8 1178.4 1109.8 1178.5 1110 1179.1 1110.5 1179.1 1111 1180.1 1111.8 1180.2 1114 1180.3 1114.3 1179.8 1116.8 1179.8 1117 1180.2 1117.3 1180 1117.5 1179.2 1120.3 1179.2 1121.3 1180.9 1121.5 1180.2 1121.8 1180.2 1127.3 1180.2 1127.8 1180.2 1128 1180.5 1129 1179.7 1131.5 1179.7 1132 1180.4 1132.3 1180.3 1132.5 1179.8 1135 1179.8 1135.3 1180.2 1135.8 1180.4 1136.3 1181.3 1136.5 1180.4 1139 1180.4 1139.3 1180.9 1140 1180.9 1140.3 1181.5 1140.8 1181.5 1141 1180.4 1141.3 1180.3 1145.8 1180.4 1146.5 1181.2 1147 1180.7 1147.5 1180.7 1147.8 1180.4 1150.3 1180.4 1154 1180.7 1154.5 1181 1154.8 1181.5 1155.8 1181.5 1156.5 1181.8 1157.8 1181.9 1158.8 1180.8 1160.8 1180.8 1161 1180.4 1161.3 1180.4 1164.8 1180.4 1165 1180.6 1165.3 1181.3 1166.8 1181.3 1167 1181.3 1167.3 1181.8 1167.5 1181.8 1167.8 1183.2 1168 1183.5 1168.8 1182.7 1169 1181.5 1171.5 1181.5 1172 1181.9 1173.3 1181.9 1173.5 1182.2 1174.5 1182.2 1175.3 1181.1 1177.8 1181.1 1178 1181.3 1179.3 1181.3 1179.5 1181.7 1179.8 1181.7 1186.5 1181.6 1187.5 1181.7 1187.8 1182.2 1191.3 1182.2 1191.8 1181.4 1192.5 1181.3 1192.8 1180.9 1195.5 1180.9 1196.3 1181.5 1196.5 1182 1196.8 1181.4 1197 1181.3 1199.5 1181.3 1200 1182 1200.5 1181 1201 1181 1203.5 1181 1203.8 1181.4 1210 1181.3 1210.3 1181.6 1210.5 1181.1 1216 1181.2 1216.3 1181.4 1218.5 1181.4 1219.3 1182.4 1220 1181.2 1223.8 1181.2 1224 1181.7 1225.5 1181.7 1225.8 1182.2 1226.3 1182.2 1226.5 1183 1227.3 1183 1227.5 1182.8 1229 1182.8 1229.3 1182.2 1229.5 1182.2 1232 1182.2 1232.5 1182.9 1232.8 1182.9 1233 1181.9 1233.5 1181.3 1236.3 1181.3 1236.8 1182.8 1237 1182.8 1237.5 1182.4 1238.5 1182.3 1238.8 1182 1239 1182 1239.3 1181.3 1242.5 1181.3 1243 1181.9 1245.3 1182 1246.5 1181.9 1246.8 1181.4 1249.3 1181.4 1249.8 1182 1252 1182 1252.3 1182.4 1253 1182.4 1253.3 1183.6 1254 1183.5 1254.3 1183.1 1254.5 1183.1 1254.8 1182.2 1257.3 1182.2 1257.5 1182.5 1258 1182 1260.5 1182 1260.8 1182.2 1262.3 1182.2 1262.8 1182.6 1263.3 1182.6 1267.3 1182.3 1267.8 1181.8 1271.5 1181.6 1271.8 1181.7 1272 1182 1273.3 1182 1273.8 1182.8 1274 1183.6 1274.5 1184.1 1275.3 1184.1 1275.8 1183 1276.3 1182.7 1279 1182.5 1279.3 1182 1281 1182 1281.3 1181.6 1286.3 1181.6 1286.8 1182.2 1288.8 1182.2 1289.3 1182.1 1289.5 1181.6 1292.8 1181.6 1293 1181.8 1294.8 1181.8 1296 1182.6 1297.8 1182.6 1298 1182.9 1302 1182.8 1302.3 1183.4 1302.5 1183.2 1302.8 1182.5 1305 1182.5 1305.3 1182.4 1305.5 1181.6 1308.3 1181.6 1308.5 1181.7 1308.8 1182.7 1309 1182.9 1309.5 1182.6 1311.8 1182.6 1312 1182.1 1315 1182.2 1315.5 1183.4 1316 1183.4 1316.5 1182.6 1319 1182.6 1319.5 1183.3 1319.8 1182.8 1323.5 1182.6 1323.8 1182.2 1326.3 1182.2 1326.5 1182 1329 1182 1329.3 1182.9 1329.5 1182.9 1329.8 1182.3 1332.3 1182.3 1332.8 1182.7 1333.3 1182.7 1333.5 1182.1 1336 1182.1 1336.3 1182.5 1338.8 1182.5 1339 1181.6 1339.3 1181.6 1341.8 1181.6 1342 1182.6 1343.5 1182.6 1343.8 1183.3 1344 1183 1345.3 1183 1346 1182.9 1346.3 1182.6 1347.5 1182.6 1348.3 1181.5 1348.8 1181.3 1351.3 1181.3 1351.5 1182.5 1351.8 1182.9 1353.3 1182.9 1354.8 1182.9 1355 1182.6 1355.3 1181.4 1357.8 1181.4 1358 1181.6 1358.8 1181.6 1359.3 1180.2 1359.8 1179.7 1361 1179.7 1361.5 1179 1362.5 1179 1363.3 1176.6 1363.5 1176.4 1366 1176.4 1366.8 1174.5 1369.3 1174.5 1369.8 1174.8 1370.3 1175.8 1371.5 1176 1371.8 1176.8 1372 1176.8 1372.3 1176.3 1374.8 1176.3 1375 1176.8 1375.3 1176.8 1376 1179.1 1377.8 1179.1 1378 1179.7 1380 1179.8 1380.5 1180.8 1381 1180.3 1383.5 1180.3 1384 1181.1 1384.5 1180.5 1388 1180.6 1388.5 1181.2 1388.8 1181.2 1389.3 1181.9 1389.5 1181.9 1389.8 1181.5 1392.3 1181.5 1392.8 1181.9 1393.3 1183 1393.5 1183 1393.8 1181.8 1394 1181.5 1396.5 1181.5 1396.8 1182.4 1397.5 1182.5 1400 1182.4 1400.8 1181.5 1403.3 1181.5 1403.5 1182.3 1403.8 1182.3 1404 1182.7 1404.3 1182.7 1404.5 1181.7 1404.8 1181.5 1407.3 1181.5 1407.5 1182 1408.8 1182 1409 1182.4 1409.3 1182.5 1409.5 1181.9 1413.8 1181.7 1414.8 1182.1 1415.3 1183 1415.8 1183 1416 1182.8 1418.5 1182.8 1419.3 1183.2 1421.5 1183.3 1421.8 1184 1422.3 1182.7 1423.5 1182.7 1424 1182 1426.5 1182 1426.8 1182.8 1427 1182.8 1427.3 1182.7 1427.5 1182 1430 1182 1430.3 1182.2 1430.8 1182.2 1431 1182.6 1431.3 1182.6 1431.8 1182 1434.3 1182 1434.8 1182.3 1435.3 1182.4 1435.8 1183.3 1436 1182.5 1439.8 1182.6 1440.3 1182.2 1444.5 1182.2 1444.8 1182.9 1448.3 1182.9 1448.8 1184.2 1449 1184.4 1449.3 1184.3 1449.5 1183.9 1450 1182.4 1452.8 1182.3 1453.3 1182.6 1453.5 1182.3 1458 1182.4 1458.3 1182.9 1458.8 1183.1 1461.3 1183.1 1461.5 1183.6 1462 1183.7 1462.3 1182.7 1462.5 1182.5 1465 1182.5 1469.3 1182.6 1469.8 1183.6 1473.5 1183.7 1474.3 1182.8 1480.3 1182.9 1480.5 1183.6 1481 1183.8 1481.3 1183.2 1484.5 1183.1 1485 1183.8 1485.5 1184.1 1486 1183.7 1491.3 1183.7 1491.5 1184 1492.3 1183.3 1495 1183.3 1495.3 1183.4 1495.5 1184.2 1498 1184.2 1498.3 1184.6 1498.8 1183.9 1499 1183.8 1500.3 1183.8 1501 1183.5 1503.5 1183.5 1503.8 1183.6 1504 1184 1505.5 1184 1505.8 1184.3 1508.3 1184.3 1509 1184.6 1511.5 1184.6 1511.8 1184.8 1512.8 1184.6 1515 1184.6 1515.5 1183.9 1518 1183.9 1518.5 1184.2 1519.3 1184.2 1519.5 1183.9 1526 1184 1526.5 1184.3 1529.5 1184.4 1529.8 1184.7 1530.8 1184.7 1531 1184.5 1534.5 1184.7 1535.3 1184.5 1543 1184.4 1543.5 1184.6 1546.3 1184.6 1547.3 1184.9 1548.8 1185 1550.5 1184.6 1553 1184.6 1555.5 1184.8 1560.8 1184.7 1564 1184.9 1632.3 1185.1 1807.5 1185.4 1807.5 1187.8 1566.8 1187.3 1546.3 1187.6 1545.5 1187.3 1542.8 1187.4 1542.5 1187.2 1541.8 1187.2 1539.5 1187.3 1539 1187.7 1532.8 1187.7 1532.5 1187.4 1531.5 1187.4 1530.5 1187.8 1528 1187.8 1527.5 1187.3 1524.3 1187.4 1524 1187 1521.8 1187 1521.3 1187.7 1520.8 1187.9 1518.3 1187.9 1517.5 1187 1517 1187.4 1516.8 1187.9 1510.3 1187.9 1508 1187.9 1507.8 1187.7 1507.5 1187.9 1505 1187.9 1504.8 1187.4 1504.3 1187.4 1504 1187.2 1502.8 1186.9 1502.5 1187.1 1500.8 1187.1 1500.5 1187.8 1500 1188 1496.8 1188 1496.3 1187.8 1494.8 1187.8 1494.5 1187.1 1494 1187 1493.8 1187.1 1493.5 1187.9 1489.3 1188 1489 1187.2 1488 1187.1 1487.5 1188.1 1484.8 1188.1 1484.5 1187.6 1484 1187.4 1483.8 1186.9 1483.5 1186.9 1482.3 1187.7 1479 1187.6 1478.3 1186.3 1476.3 1186.3 1475.5 1187.5 1475.3 1187.6 1470.3 1187.7 1467.8 1187.6 1467.5 1186.8 1467.3 1186.7 1467 1186.2 1464.5 1186.4 1464.3 1187.2 1463.8 1187.2 1463.5 1187.4 1461 1187.4 1460.5 1186.8 1460.3 1187.2 1457.8 1187.2 1456.5 1186.9 1454.8 1186.9 1454.5 1186.3 1453.8 1186.1 1452 1186.3 1451.8 1186.7 1451.5 1186.8 1451.3 1187.7 1449.8 1187.8 1449.5 1188 1447 1188 1446.3 1186.6 1446 1186.5 1445.8 1186.8 1441.3 1186.8 1441 1186.5 1439 1186.5 1438.8 1186.3 1438.3 1186.3 1437.5 1186.5 1437.3 1187 1436.8 1187.2 1434.3 1187.2 1434 1187 1433.8 1186.4 1433.3 1186.3 1433 1185.8 1432.8 1186.4 1430.3 1186.4 1430 1186 1429.3 1186 1429 1185.7 1428 1186 1427.8 1186.8 1425 1186.9 1424.8 1185.8 1424.5 1185.8 1423.8 1187.6 1419.8 1187.6 1419.5 1187.2 1419.3 1187.2 1415.5 1187.2 1415.3 1186.7 1413.5 1186.7 1412.5 1185.2 1412.3 1185.1 1411.8 1185.1 1411.5 1185.8 1411.3 1185.8 1411 1186.1 1410.3 1186.1 1410 1186.3 1406.5 1186.3 1406 1186.9 1402 1187 1401.8 1186.6 1401.5 1186.9 1399 1186.9 1398.8 1185.8 1397 1185.7 1395.8 1185.7 1395.5 1186.7 1395.3 1186.8 1392.8 1186.8 1392.3 1186.6 1391 1186.6 1390.8 1186.3 1389.3 1186.3 1388.8 1185.5 1386.8 1185.1 1386.5 1184.2 1386.3 1185 1386 1185 1385.8 1186.1 1383.3 1186.1 1382.8 1185.1 1382.3 1185 1382 1183.9 1381.8 1183.9 1381.5 1184 1381.3 1185.1 1378.8 1185.1 1378.3 1184.9 1376.5 1184.9 1376.3 1183.8 1375.8 1183.8 1375.5 1183.2 1374 1183.2 1373 1180.3 1371 1180.3 1370.8 1180.1 1370.3 1180.1 1369.8 1179.6 1369.5 1179.6 1369 1178.7 1368.8 1178.7 1368.3 1179.9 1367.8 1180.3 1367.5 1180.9 1365.3 1180.9 1364.8 1182.2 1363.8 1182.3 1363.5 1182.8 1363 1182.8 1362.8 1183.2 1361.5 1183.2 1361.3 1184 1360.8 1184.6 1360.5 1185.8 1360.3 1185.9 1357.8 1185.9 1357.5 1185.7 1356.5 1186.4 1352.8 1186.3 1352.5 1186.9 1350 1186.9 1349.3 1186.4 1348 1186.4 1347.8 1186.7 1345.3 1186.7 1345 1186.4 1344.8 1186.9 1342.3 1186.9 1341 1186.7 1340.5 1187.2 1337.5 1187.1 1337.3 1186.4 1336.8 1186.1 1335 1186.1 1334.8 1186.4 1334 1186.4 1333.8 1186.8 1331.3 1186.8 1331 1186.2 1330.5 1186.1 1330.3 1187.2 1327.8 1187.2 1326.8 1186.6 1325.8 1186.6 1325.5 1187.1 1323 1187.1 1322.8 1187.4 1320.3 1187.4 1320 1187.1 1314.8 1187.2 1314.3 1187 1314 1186.6 1312.8 1186.4 1310 1186.5 1309.8 1186.7 1307 1186.7 1306.8 1187.4 1304 1187.4 1303.8 1186.8 1303.5 1187.1 1301.3 1187.2 1301 1187.4 1296.5 1187.4 1296.3 1186.8 1294 1186.8 1293.8 1185.9 1293.5 1185.6 1291.3 1185.6 1291 1186.3 1290.5 1186.3 1290.3 1186.6 1287.8 1186.6 1287.5 1186.4 1285.3 1186.4 1285 1187.2 1282.5 1187.2 1282 1186.4 1280.3 1186.4 1280 1186.2 1279.5 1186.7 1278 1186.7 1277.8 1187.4 1272 1187.3 1271.8 1186.5 1270.3 1186.5 1269.8 1185.1 1269.5 1185.4 1269.3 1186.6 1264.8 1186.5 1264.3 1186.2 1262.5 1186.2 1262.3 1186 1261.3 1185.9 1261 1185.5 1259.5 1185.3 1258.8 1185.6 1258.5 1185.9 1256.8 1185.9 1256.3 1186.2 1256 1187.2 1251.8 1187.2 1251.5 1186.5 1251 1186.1 1250.5 1187 1248 1187 1247.8 1185.9 1247 1187.2 1244.5 1187.2 1244.3 1187 1244 1186 1243.8 1187.2 1241.3 1187.2 1241 1185.8 1240.8 1185.5 1239.5 1185.5 1239.3 1186.3 1239 1186.3 1238.5 1187.1 1235 1187.1 1234.5 1185.8 1233.5 1185.9 1233.3 1186.3 1231.5 1186.3 1231 1186.7 1226 1186.8 1225.8 1186.3 1225 1186.1 1224.3 1186.1 1223.8 1185.2 1222.5 1185.2 1222.3 1184.7 1222 1184.7 1221.3 1187 1218.8 1187 1218.5 1186.3 1217.5 1185.5 1214.5 1185.4 1214.3 1185.2 1214 1185.2 1213.8 1185.5 1212.3 1185.5 1211.8 1186.1 1209.3 1186.1 1209 1185.9 1208.8 1186.2 1206.5 1186.2 1206.3 1186.8 1203.8 1186.8 1202.8 1184.9 1201.3 1185 1200.5 1186.1 1198.3 1186.2 1198 1186.4 1195.5 1186.4 1194.5 1184.7 1194 1184.5 1193.5 1184.6 1192.8 1186.6 1187 1186.6 1186.8 1186.1 1186.3 1186.1 1186 1186.4 1183.5 1186.4 1183.3 1185.7 1182.8 1185.6 1182.5 1185.1 1182 1185.1 1181.8 1185.4 1181.3 1185.4 1181 1185.8 1180.5 1185.8 1180.3 1186 1177.8 1186 1177.5 1185.8 1177.3 1184.6 1176.3 1185.8 1175 1185.8 1174.8 1186 1172.3 1186 1171.3 1185.4 1170.8 1185.8 1170.5 1186.3 1165.8 1186.3 1165.5 1186.3 1165 1185.1 1163.8 1185.1 1163.5 1184.6 1163 1184.6 1162.8 1184.1 1162.5 1185.2 1162.3 1185.4 1159.8 1185.4 1159.3 1185.8 1157 1185.9 1154.5 1185.9 1154.3 1185.1 1152.8 1185.1 1152.5 1184.2 1150.5 1184.2 1150 1184 1149 1184.2 1148.5 1185.2 1148.3 1185.3 1145.8 1185.3 1145.5 1184.5 1144.8 1184.8 1143 1184.8 1142.8 1185 1138.8 1185.1 1138 1184.5 1137.8 1184.7 1135.3 1184.7 1134.3 1184 1133.8 1185.3 1131.3 1185.3 1130.3 1184.2 1130 1183.5 1129.3 1183.6 1129 1184 1126.5 1184 1126.3 1183.7 1125.8 1183.7 1125.5 1184 1123.8 1184 1123.5 1184.3 1120.3 1184.3 1120 1184.1 1118.5 1184 1118.3 1184.4 1115.8 1184.4 1115.3 1183.9 1111 1183.9 1110.8 1183.2 1109.5 1183.2 1109 1182.5 1108.5 1182.5 1108.3 1182.1 1106.5 1182.1 1106 1182.5 1102 1182.3 1101.8 1181.8 1101.3 1181.8 1101 1181.4 1099.8 1181.4 1098.5 1180.3 1097.8 1180.3 1096.5 1178.1 1095.5 1178.1 1095.3 1177.7 1094.8 1177.4 1093 1177.3 1092.8 1176.8 1091.5 1176.7 1091 1176.3 1090.5 1175.3 1088.8 1175.4 1088.3 1175.8 1087.3 1176.1 1086 1176.1 1085.8 1176.5 1083.3 1177.4 1082 1177.4 1081.5 1177.8 1078.5 1177.9 1078 1177.7 1077.5 1177.1 1076 1177.1 1075 1176.7 1074.3 1176.7 1074 1176.3 1071.8 1176.2 1070.8 1175.2 1070.3 1175.2 1070 1174.9 1069.3 1174.7 1068 1174.7 1067.8 1174.3 1066.3 1174.3 1065.8 1173.9 1064 1173.9 1063 1173 1060.3 1173 1060 1172.7 1059.3 1172.9 1056.8 1172.9 1056.3 1172.5 1056 1172.8 1052.5 1172.8 1052 1172.6 1051.5 1171.9 1050.5 1171.7 1049.5 1170.5 1048.3 1170.3 1048 1170 1046.8 1169.3 1046 1168.1 1043.5 1167.9 1042.3 1169.7 1042 1169.7 1041.3 1171.1 1041 1171.1 1040.5 1171.6 1039.3 1173.8 1035.8 1173.9 1035.5 1173.3 1035 1173 1034.8 1172.5 1033.3 1171.5 1033 1170.9 1032 1169.9 1031.5 1168.7 1030 1168.1 1029.8 1167.6 1027.8 1167.6 1027.3 1168.1 1025.8 1168.1 1025.3 1168.4 1025 1168.7 1022.5 1168.7 1022.3 1168.5 1019.5 1168.4 1018.8 1168.2 1018.3 1167.6 1017.8 1167.5 1017.3 1166.9 1016.8 1166.2 1016.3 1164.7 1014.8 1163.1 1014.3 1161.9 1013.8 1161.8 1013.5 1161.1 1013.3 1160.9 1012.8 1160.8 1012.3 1160.2 1009 1160.2 1008.8 1160.6 1006.5 1160.8 1005.3 1161.5 1004.3 1161.5 1003.8 1161.9 1002.3 1161.9 1002 1162.3 1001.3 1162.3 1001 1162.5 998.5 1162.5 998 1162 996 1161.7 995.5 1161.1 995 1161.1 994.8 1160.8 994 1160.5 993.8 1160.1 993.3 1160.1 992.8 1159.7 992 1159.4 990 1159.4 989.3 1159 988.5 1157.8 987.5 1157.8 987 1157.4 986 1157.3 985.3 1156.4 984.3 1156.4 984 1155.9 983.8 1155.9 983.5 1155.2 982.8 1155.1 982 1153.9 980.8 1153.6 980 1152.5 978.5 1152.3 978 1151.9 977.5 1151 976.3 1151 975.5 1150.5 974.5 1148.9 972.3 1148.8 971.8 1148.2 971 1148.1 970.3 1148.5 965.3 1148.4 964.3 1148.8 961.3 1148.8 960.5 1148.4 959 1148.4 957.3 1147.4 956 1147.2 954.8 1145 954 1144.2 953.8 1144.2 952.8 1142.6 952 1140.8 951.3 1139.6 950.8 1139.5 949.5 1138.1 949.3 1138.1 947.8 1134.9 947.3 1134.6 946.3 1134.6 945.8 1134.1 945.5 1134.1 944.3 1132.6 943.5 1132.3 942.8 1131.7 942.3 1130.7 941.5 1130.1 941 1130 940.8 1129.5 940.5 1129.5 939.8 1128.2 939.5 1128.2 939.3 1127.8 938.5 1127.8 938.3 1127.5 936.5 1127.5 935.8 1127 935.3 1127.6 932 1127.5 931 1128.7 930.5 1129.1 929.8 1129.2 924.5 1129.2 922.8 1128.9 921.5 1126.4 920.8 1126.3 920.5 1125.7 919.3 1122.5 917.3 1115.4 916.5 1114.4 916 1113.3 914.8 1109 914.5 1108.6 914.3 1108.5 913.5 1107 913 1106.6 912.5 1106.6 912.3 1106.4 910.5 1106.4 910.3 1106.1 908.5 1106.1 908.3 1105.7 908 1105.9 905.5 1105.9 905.3 1105.4 904.8 1105.1 904.3 1105.3 901.8 1105.3 900 1105.2 899.5 1104.8 898 1104.8 897.5 1104.3 896 1104.3 895.3 1103.5 895 1102.8 894.5 1102.3 893.8 1102.3 893 1101.1 892.3 1099.2 891.8 1098.4 891.5 1098.4 891 1096.9 890.5 1096.4 889.3 1092.3 888.8 1091.3 888.3 1090.8 887.5 1089.1 887 1087.2 886 1084.6 885 1083 884.5 1082.5 882.8 1079.2 882.5 1079.2 882 1078.6 879.5 1078.6 878.5 1079.4 877.5 1079.4 877 1079.9 873 1079.9 870.5 1080.4 868 1080.4 867.8 1080.2 867 1080 865.5 1077 865 1075.4 863.3 1071.9 861.5 1066.2 861 1065.5 860 1062 859 1059.7 858.5 1059.6 858.3 1059.3 857.3 1057.3 856.5 1057.3 856.3 1056.9 855.3 1056.1 852 1056 851 1055.4 849.8 1055.1 849.3 1054.7 847 1054.7 846 1053.7 845 1053.7 844.5 1053.2 844 1051.8 842.3 1048.9 841.8 1048.4 839.3 1042 839 1042 837.8 1038.4 837.3 1037.9 836.5 1037.5 835.3 1035 834 1035 833.5 1034.4 832.5 1033.5 830.3 1033.5 830 1033 829.8 1033 829.3 1032.5 828 1032.5 827.8 1032.2 825.5 1032.2 825.3 1032 823.8 1032 823.3 1031.4 822.3 1031.3 821.8 1031 821 1029.4 819.8 1029.1 819 1027.7 818.8 1027.6 818.5 1027 817.8 1026.1 817.5 1025.1 816 1022.5 814.8 1019.1 814.5 1019 814.3 1018.4 813.5 1018.1 812.8 1017.2 812.3 1017.1 811.5 1015.6 810 1015.5 809.5 1014.9 808.5 1014.9 808.3 1014.7 807.5 1014.6 807.3 1014.4 805.3 1014.4 804.3 1014.1 803.5 1012.9 801.8 1012.8 801.3 1012.1 801 1012.1 800.5 1011.7 800 1011.7 799.8 1011.3 798.5 1010.7 797.8 1010 796.5 1009.2 795.8 1007.8 794.3 1007.5 793.8 1006.5 792.8 1006.1 791.5 1003.5 791 1003 790 1002.7 789.5 1002.2 789.3 1002.2 788.3 1000.5 787.8 1000.5 786.5 999.8 786 999.8 785.5 999 784.5 999 783.5 998.3 782.5 996.6 781.5 996.5 781.3 996.1 780 996 779.8 995.8 779.3 994.4 779 994.2 778.3 994.2 777 993.4 775.5 993.2 775 992.4 774.5 992.3 774.3 991.9 773.5 991.9 772.8 991.5 772 990.4 771.3 990.4 771 989.7 770.8 989.5 769.5 989.5 769 989.3 768.8 988.8 767.5 987.7 767.3 987 766.3 986.1 765 986.1 763.8 984.9 762.5 984.7 761.5 982.9 761 982.9 760.5 982.4 759.5 982.3 759.3 982 759 982 758.3 980.8 757 980.7 755.5 978.8 754.8 978.5 754.3 978 753.3 977.8 752.3 976.7 751.8 976.5 751.5 976.1 750.8 976 750.3 975.3 749.8 975.3 749.5 974.8 748.3 974.8 747.8 974.4 746.5 972.5 745.3 972.3 744 970.4 742.8 970.3 742.3 969.7 740.8 969 740 967.6 738.3 966.8 737.5 966.7 737 965.8 736.5 965.6 735.8 965.6 735 964.9 734.5 964.8 734.3 964.4 733.8 964.3 733.3 963.8 732.8 963.8 732.5 963.5 732 963.4 731.5 962.8 730.3 962.2 729.5 961.2 728.8 960.7 728.3 960.6 727 959.1 726.8 959.1 725.5 957.8 724.3 957 723 955.1 718.3 950.5 717 948.7 714.5 947 712.5 945 709.5 942.9 708.5 942.5 706.8 940.9 705.8 940.3 701.3 936 698 932.2 695.8 929.3 691 922 688 915.9 685.3 909.3 684 905.8 681.8 897.5 680.3 893.8 677.5 888.6 674.8 884.5 674.5 884.5 671.5 880.1 669.8 877.1 667 871.7 666.8 871.7 663 863.7 659.3 855.1 659 855.1 651.5 836.3 651.3 836.3 647.5 825.8 644 815.2 643.8 815.2 643 812.8 639.8 801.6 635.8 786.2 623.5 736.2 620 720.1 617 704.4 602.3 620.7 594.3 577 588 537.3 580.5 493.5 574.8 453 572.5 440 567.5 419.4 564.5 403.8 563.8 401.7 562.8 399.5 557 390.2 555.3 386.5 554.3 382.5 551.8 369.6 551.5 369.1 551.3 369.6 549.3 375.2 548.3 377.1 542.5 377.2 541.3 376.6 539.3 375.2 537.3 379 536.5 382.5 534.5 400.6 533.5 405.7 532.8 408.5 531.3 411.2 528 414.6 526 417.4 524.8 419.5 523.8 421.6 523.3 423.2 522.5 426.7 520 443 518.8 449.1 517.8 451.6 516.5 454 512.5 459.6 510.8 462.6 509.6 466 506.6 475.6 505.3 478.5 504.6 479.5 504.1 479.7 488.6 479.7 487.8 479.4 487.1 478.4 486.1 476.6 483.8 471.7 482.3 467.7 476.6 450 473.8 439.3 472.6 432.4 469.6 413.5 465.8 393.7 463.8 381.8 458.1 343.1 454.1 314.2 452.3 303.3 449.6 290 446.8 278.6 444.3 270 441.1 260.6 440.1 262.5 439.1 265.4 436.8 274.1 435.3 282.6 433.6 295.7 431.6 315.4 427.3 373.7 425.6 393 423.8 408 420.3 434.6 411.3 506.6 409.3 520.1 406.3 532.8 405.3 535.8 404.3 537.8 403.6 538.2 398.6 538.2 394.8 537.6 391.6 539.1 390.8 539.6 390.3 540.4 389.3 543.3 388.3 547.8 385.8 564.2 384.6 579.7 383.3 602.6 380.6 658.9 376.1 759.7 374.3 794.4 371.8 836.8 369.6 865.7 367.6 910.5 366.1 929.7 364.6 943.4 361.6 965.6 358.6 990 357.8 994.7 356.6 1000.6 354.6 1008.3 353.8 1009.8 353.3 1010.2 348.1 1010.2 347.6 1009.9 346.3 1007.6 343.3 999 341.6 995.3 340.6 1000.6 339.6 1007.6 339.1 1013.8 334.6 1085.5 330.1 1144.6 328.6 1160.8 326.3 1177.3 325.3 1182 324.1 1186.3 323.3 1187.4 321.8 1188.2 271.3 1188.2Z"/>
</g>
<rect x="1083.8" y="448.6" width="174.6" height="7.2" rx="2.6" fill="#000"/>
<rect x="1083.8" y="530.2" width="174.6" height="7.2" rx="2.6" fill="#f00"/>
<rect x="1083.8" y="611.7" width="174.6" height="7.2" rx="2.6" fill="#008000"/>
<rect x="1083.8" y="693.2" width="174.6" height="7.2" rx="2.6" fill="#00f"/>
<g font-family="'Liberation Serif', 'Times New Roman', serif" font-weight="bold" font-size="66" fill="#000">
<text transform="translate(1271.5 475.4) scale(0.987 1.04)">ITO=0 nm</text>
<text transform="translate(1271.5 556.5) scale(0.987 1.04)">ITO=200 nm</text>
<text transform="translate(1271.5 637.5) scale(0.987 1.04)">ITO=400 nm</text>
<text transform="translate(1271.5 718.2) scale(0.987 1.04)">ITO=600 nm</text>
</g>
<g font-family="'Liberation Sans', Arial, sans-serif" font-weight="bold" fill="#000">
<g font-size="53.6" text-anchor="end">
<text x="236" y="1202.3">0</text>
<text x="236" y="979.3">20</text>
<text x="236" y="756.3">40</text>
<text x="236" y="533.3">60</text>
<text x="236" y="310.3">80</text>
<text x="236" y="87.3">100</text>
</g>
<g font-size="54" text-anchor="middle">
<text x="269.0" y="1263">250</text>
<text x="439.7" y="1263">500</text>
<text x="610.4" y="1263">750</text>
<text x="781.1" y="1263">1000</text>
<text x="951.8" y="1263">1250</text>
<text x="1122.5" y="1263">1500</text>
<text x="1293.2" y="1263">1750</text>
<text x="1463.9" y="1263">2000</text>
<text x="1634.6" y="1263">2250</text>
<text x="1805.3" y="1263">2500</text>
</g>
<text x="302" y="124.6" font-size="65.5">(a)</text>
<text x="1039" y="1376.2" font-size="69.8" text-anchor="middle">Wavelength (nm)</text>
<text transform="translate(95.9 663.2) rotate(-90)" font-size="69.8" text-anchor="middle">Trasmittance (%)</text>
</g>
</g>
</svg>
</body></html>
